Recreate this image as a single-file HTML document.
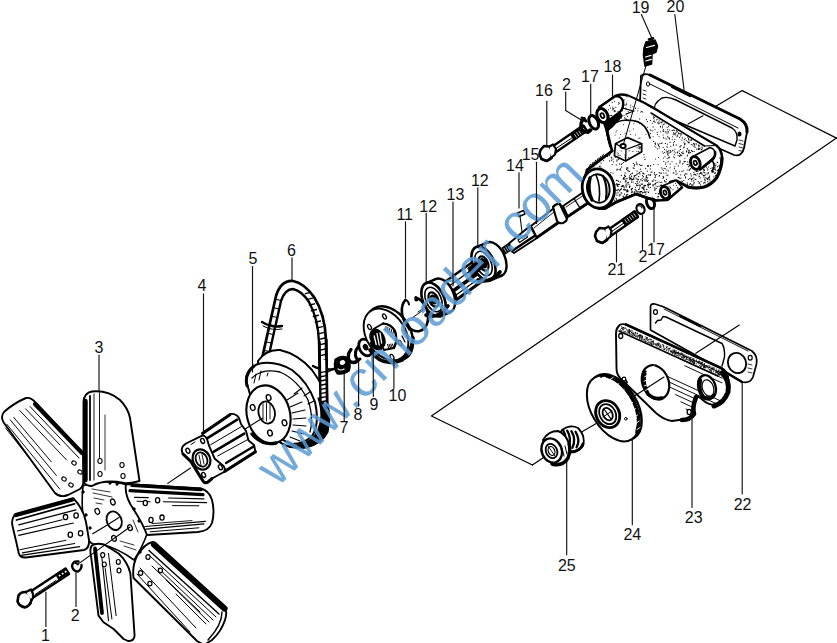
<!DOCTYPE html>
<html><head><meta charset="utf-8"><title>diagram</title>
<style>
html,body{margin:0;padding:0;background:#fff;}
body{width:837px;height:643px;overflow:hidden;}
svg{display:block;font-family:"Liberation Sans",sans-serif;}
</style></head><body>
<svg width="837" height="643" viewBox="0 0 837 643" stroke-linecap="round" stroke-linejoin="round">
<rect width="837" height="643" fill="#fff"/>
<path d="M714.6,107 L742.2,90.6 L836.5,138.1" fill="none" stroke="#000" stroke-width="1.2" />
<path d="M703,115.7 L688,124" fill="none" stroke="#000" stroke-width="1.1" />
<path d="M836.5,138.1 L431.4,416 L532.4,465" fill="none" stroke="#000" stroke-width="1.2" />
<path d="M83,486 Q100,478 128,485 Q140,500 147,534 Q142,548 134,560 Q118,548 100,544 Q90,546 88,538 Q80,515 83,486 Z" fill="#fff" stroke="#000" stroke-width="1.6" />
<path d="M26,398 Q14,403 4,412 Q0,417 4,423 L55,493 Q60,498 68,495 L80,489 Q84,486 83.5,478 L83,453 L36,403 Q31,397 26,398 Z" fill="#fff" stroke="#000" stroke-width="1.9" />
<path d="M35,404 L82,453" fill="none" stroke="#000" stroke-width="4.2" />
<path d="M30,406.5 L79,458" fill="none" stroke="#000" stroke-width="1.0" />
<line x1="19.7" y1="410.5" x2="66.7" y2="460.1" stroke="#000" stroke-width="0.95"/>
<line x1="25.6" y1="408.8" x2="60" y2="445" stroke="#000" stroke-width="0.95"/>
<line x1="13.7" y1="417.4" x2="51.3" y2="461.8" stroke="#000" stroke-width="0.95"/>
<line x1="10.3" y1="419.9" x2="56.4" y2="475.5" stroke="#000" stroke-width="0.95"/>
<line x1="6.8" y1="424.2" x2="59.8" y2="489.1" stroke="#000" stroke-width="0.95"/>
<line x1="5.5" y1="428" x2="30" y2="459" stroke="#000" stroke-width="0.95"/>
<ellipse cx="74" cy="463" rx="2.3" ry="1.9" transform="rotate(30 74 463)" fill="#fff" stroke="#000" stroke-width="1.1"/>
<ellipse cx="80" cy="472" rx="2.3" ry="1.9" transform="rotate(30 80 472)" fill="#fff" stroke="#000" stroke-width="1.1"/>
<ellipse cx="64" cy="479" rx="2.3" ry="1.9" transform="rotate(30 64 479)" fill="#fff" stroke="#000" stroke-width="1.1"/>
<ellipse cx="71" cy="485" rx="2.3" ry="1.9" transform="rotate(30 71 485)" fill="#fff" stroke="#000" stroke-width="1.1"/>
<path d="M14.5,515 Q11,520 12.5,526 L16.5,543 L18.7,553 Q20,558 26,557.5 L84,550 Q89.5,548.5 89,540 L86,522 Q83,508 73.5,498.5 Z" fill="#fff" stroke="#000" stroke-width="1.9" />
<path d="M16,515 L72.5,499.5" fill="none" stroke="#000" stroke-width="4.4" />
<path d="M16.5,520 L74.5,503.8" fill="none" stroke="#000" stroke-width="1.8" />
<line x1="18.7" y1="524.8" x2="75.9" y2="509.9" stroke="#000" stroke-width="1.2"/>
<line x1="17.4" y1="531" x2="62.2" y2="519.8" stroke="#000" stroke-width="1.1"/>
<line x1="18.7" y1="535.4" x2="73.4" y2="523" stroke="#000" stroke-width="1.1"/>
<line x1="19.9" y1="549.7" x2="65.9" y2="540.3" stroke="#000" stroke-width="1.0"/>
<line x1="22.4" y1="552.8" x2="74.6" y2="543.5" stroke="#000" stroke-width="1.2"/>
<line x1="21.1" y1="555.3" x2="79.6" y2="546.6" stroke="#000" stroke-width="1.2"/>
<ellipse cx="65.5" cy="517.1" rx="2.2" ry="2.6" transform="rotate(0 65.5 517.1)" fill="#fff" stroke="#000" stroke-width="1.3"/>
<ellipse cx="76.1" cy="515.5" rx="2.2" ry="2.6" transform="rotate(0 76.1 515.5)" fill="#fff" stroke="#000" stroke-width="1.3"/>
<ellipse cx="70.3" cy="534.8" rx="2.2" ry="2.6" transform="rotate(0 70.3 534.8)" fill="#fff" stroke="#000" stroke-width="1.3"/>
<ellipse cx="80.6" cy="533.3" rx="2.2" ry="2.6" transform="rotate(0 80.6 533.3)" fill="#fff" stroke="#000" stroke-width="1.3"/>
<path d="M83.5,482 L83.5,402 Q84,393 92,391.5 Q108,390 120,400 Q128,408 130,418 L139.5,481 Q128,484 124,483 Q104,479 92,486 Q86,486 83.5,482 Z" fill="#fff" stroke="#000" stroke-width="1.9" />
<path d="M85.5,401 L85.5,480" fill="none" stroke="#000" stroke-width="4.4" />
<path d="M90,396 L90,480" fill="none" stroke="#000" stroke-width="1.8" />
<line x1="94" y1="394" x2="94" y2="480" stroke="#000" stroke-width="0.9"/>
<line x1="99.5" y1="393" x2="99.5" y2="462" stroke="#000" stroke-width="0.9"/>
<line x1="105" y1="415" x2="105" y2="470" stroke="#000" stroke-width="0.8"/>
<ellipse cx="100" cy="461" rx="2.1" ry="2.5" transform="rotate(0 100 461)" fill="#fff" stroke="#000" stroke-width="1.1"/>
<ellipse cx="100" cy="474" rx="2.1" ry="2.5" transform="rotate(0 100 474)" fill="#fff" stroke="#000" stroke-width="1.1"/>
<ellipse cx="122" cy="465" rx="2.1" ry="2.5" transform="rotate(0 122 465)" fill="#fff" stroke="#000" stroke-width="1.1"/>
<ellipse cx="123" cy="476" rx="2.1" ry="2.5" transform="rotate(0 123 476)" fill="#fff" stroke="#000" stroke-width="1.1"/>
<path d="M126,484 L200,488.5 Q209,490 212,500 Q215,512 212,523 Q209,531 198,532 L147,535 Q143,524 134,510 Q124,496 126,484 Z" fill="#fff" stroke="#000" stroke-width="1.9" />
<path d="M132,485.2 L201,489.4" fill="none" stroke="#000" stroke-width="3.6" />
<path d="M130,490.6 L203,494.6" fill="none" stroke="#000" stroke-width="3.2" />
<line x1="134.5" y1="497.4" x2="148.3" y2="497.6" stroke="#000" stroke-width="1.2"/>
<line x1="168.6" y1="498" x2="204" y2="498.8" stroke="#000" stroke-width="1.2"/>
<line x1="163.4" y1="501.8" x2="206.7" y2="502.6" stroke="#000" stroke-width="1.1"/>
<line x1="137" y1="501.2" x2="150.2" y2="501.8" stroke="#000" stroke-width="1.0"/>
<line x1="172.6" y1="505.6" x2="198.9" y2="505.8" stroke="#000" stroke-width="1.0"/>
<line x1="145" y1="526.5" x2="205.4" y2="521.3" stroke="#000" stroke-width="1.2"/>
<line x1="146.3" y1="529.1" x2="204" y2="523.9" stroke="#000" stroke-width="1.1"/>
<line x1="150.2" y1="531.8" x2="198.9" y2="527.8" stroke="#000" stroke-width="1.0"/>
<line x1="152" y1="523.6" x2="192" y2="520.6" stroke="#000" stroke-width="0.9"/>
<ellipse cx="145.3" cy="503" rx="2.1" ry="2.6" transform="rotate(0 145.3 503)" fill="#fff" stroke="#000" stroke-width="1.3"/>
<ellipse cx="157.6" cy="500.2" rx="2.1" ry="2.6" transform="rotate(0 157.6 500.2)" fill="#fff" stroke="#000" stroke-width="1.3"/>
<ellipse cx="151" cy="520" rx="2.1" ry="2.6" transform="rotate(0 151 520)" fill="#fff" stroke="#000" stroke-width="1.3"/>
<ellipse cx="162" cy="517.6" rx="2.1" ry="2.6" transform="rotate(0 162 517.6)" fill="#fff" stroke="#000" stroke-width="1.3"/>
<path d="M152.5,542 L224,606 Q228,611 225,620 Q221,632 212,640 L204,645 L197,641 L133.5,578 Q132,566 137,556 Q144,544 152.5,542 Z" fill="#fff" stroke="#000" stroke-width="1.9" />
<path d="M154,544.5 L224.5,608.5" fill="none" stroke="#000" stroke-width="6.2" />
<path d="M149,550.5 L219,614" fill="none" stroke="#000" stroke-width="1.4" />
<line x1="150" y1="556" x2="216" y2="617" stroke="#000" stroke-width="1.0"/>
<line x1="158" y1="568" x2="213" y2="620" stroke="#000" stroke-width="1.0"/>
<line x1="166" y1="580" x2="209" y2="622" stroke="#000" stroke-width="1.0"/>
<line x1="176" y1="594" x2="206" y2="624" stroke="#000" stroke-width="1.0"/>
<line x1="152" y1="566" x2="200" y2="612" stroke="#000" stroke-width="1.0"/>
<line x1="140" y1="568" x2="196" y2="628" stroke="#000" stroke-width="1.0"/>
<line x1="137" y1="574" x2="190" y2="632" stroke="#000" stroke-width="1.0"/>
<ellipse cx="148" cy="557" rx="2.1" ry="2.3" transform="rotate(0 148 557)" fill="#fff" stroke="#000" stroke-width="1.2"/>
<ellipse cx="160.4" cy="570.4" rx="2.1" ry="2.3" transform="rotate(0 160.4 570.4)" fill="#fff" stroke="#000" stroke-width="1.2"/>
<ellipse cx="140.6" cy="573" rx="2.1" ry="2.3" transform="rotate(0 140.6 573)" fill="#fff" stroke="#000" stroke-width="1.2"/>
<ellipse cx="149.9" cy="583.6" rx="2.1" ry="2.3" transform="rotate(0 149.9 583.6)" fill="#fff" stroke="#000" stroke-width="1.2"/>
<path d="M222,612 Q222,625 208,640" fill="none" stroke="#000" stroke-width="1.4" />
<path d="M91.5,546 Q95,542.5 104,544.5 L118.6,553.5 Q127.8,562 130.4,573.6 L134.6,635.7 Q134,641.5 128,641 L123.6,639 L113.6,629 L103.5,622.3 L98.5,615.6 L91,556 Q89.5,550 91.5,546 Z" fill="#fff" stroke="#000" stroke-width="1.9" />
<path d="M95,548.5 L102,613" fill="none" stroke="#000" stroke-width="3.8" />
<line x1="101.8" y1="556.8" x2="108.5" y2="620.6" stroke="#000" stroke-width="1.1"/>
<line x1="105.2" y1="568.6" x2="111.9" y2="618.9" stroke="#000" stroke-width="1.0"/>
<line x1="108.5" y1="553.5" x2="116.1" y2="615.6" stroke="#000" stroke-width="1.0"/>
<ellipse cx="102.7" cy="555.1" rx="2.0" ry="2.4" transform="rotate(0 102.7 555.1)" fill="#fff" stroke="#000" stroke-width="1.2"/>
<ellipse cx="104.3" cy="564.4" rx="2.0" ry="2.4" transform="rotate(0 104.3 564.4)" fill="#fff" stroke="#000" stroke-width="1.2"/>
<ellipse cx="118.3" cy="561.9" rx="2.0" ry="2.4" transform="rotate(0 118.3 561.9)" fill="#fff" stroke="#000" stroke-width="1.2"/>
<ellipse cx="119" cy="570.6" rx="2.0" ry="2.4" transform="rotate(0 119 570.6)" fill="#fff" stroke="#000" stroke-width="1.2"/>
<ellipse cx="114.2" cy="520.7" rx="7.3" ry="9.6" transform="rotate(-22 114.2 520.7)" fill="#fff" stroke="#000" stroke-width="1.9"/>
<line x1="92.7" y1="533.8" x2="109" y2="524" stroke="#000" stroke-width="1.1"/>
<line x1="109.5" y1="523.5" x2="119" y2="517.5" stroke="#000" stroke-width="1.1"/>
<ellipse cx="112.8" cy="502" rx="2.2" ry="3.0" transform="rotate(-20 112.8 502)" fill="#fff" stroke="#000" stroke-width="1.3"/>
<ellipse cx="97.3" cy="511.4" rx="2.2" ry="3.0" transform="rotate(-20 97.3 511.4)" fill="#fff" stroke="#000" stroke-width="1.3"/>
<ellipse cx="130" cy="527.6" rx="2.2" ry="3.0" transform="rotate(-20 130 527.6)" fill="#fff" stroke="#000" stroke-width="1.3"/>
<ellipse cx="114" cy="538.4" rx="2.2" ry="3.0" transform="rotate(-20 114 538.4)" fill="#fff" stroke="#000" stroke-width="1.3"/>
<line x1="92" y1="489" x2="110" y2="492" stroke="#000" stroke-width="0.8"/>
<line x1="93" y1="493" x2="112" y2="497" stroke="#000" stroke-width="0.8"/>
<line x1="94" y1="498" x2="104" y2="500" stroke="#000" stroke-width="0.8"/>
<line x1="96" y1="503" x2="102" y2="504" stroke="#000" stroke-width="0.8"/>
<line x1="120" y1="541" x2="134" y2="545" stroke="#000" stroke-width="0.8"/>
<line x1="124" y1="546" x2="136" y2="550" stroke="#000" stroke-width="0.8"/>
<line x1="133" y1="520" x2="138" y2="532" stroke="#000" stroke-width="0.8"/>
<ellipse cx="83" cy="492" rx="1.1" ry="1.4" transform="rotate(0 83 492)" fill="#000" stroke="#000" stroke-width="0.8"/>
<ellipse cx="86" cy="515" rx="1.1" ry="1.4" transform="rotate(0 86 515)" fill="#000" stroke="#000" stroke-width="0.8"/>
<ellipse cx="90" cy="528" rx="1.1" ry="1.4" transform="rotate(0 90 528)" fill="#000" stroke="#000" stroke-width="0.8"/>
<ellipse cx="134" cy="509" rx="1.1" ry="1.4" transform="rotate(0 134 509)" fill="#000" stroke="#000" stroke-width="0.8"/>
<ellipse cx="139" cy="521" rx="1.1" ry="1.4" transform="rotate(0 139 521)" fill="#000" stroke="#000" stroke-width="0.8"/>
<ellipse cx="140" cy="552" rx="1.1" ry="1.4" transform="rotate(0 140 552)" fill="#000" stroke="#000" stroke-width="0.8"/>
<ellipse cx="110" cy="483" rx="1.1" ry="1.4" transform="rotate(0 110 483)" fill="#000" stroke="#000" stroke-width="0.8"/>
<ellipse cx="117" cy="484" rx="1.1" ry="1.4" transform="rotate(0 117 484)" fill="#000" stroke="#000" stroke-width="0.8"/>
<line x1="167.7" y1="483.4" x2="190.5" y2="468" stroke="#000" stroke-width="1.1"/>
<line x1="78.7" y1="563.6" x2="130" y2="527" stroke="#000" stroke-width="1.1"/>
<path d="M29,592.5 L65.5,568.5 L69,574 L32.5,598 Z" fill="#fff" stroke="#000" stroke-width="2.5" />
<line x1="35" y1="594.5" x2="56" y2="580.5" stroke="#000" stroke-width="1.0"/>
<path d="M56,574.5 L65.5,568.5 L69,574 L59.5,580 Z" fill="#000" stroke="#000" stroke-width="1.4" />
<ellipse cx="59.5" cy="575.6" rx="0.7" ry="0.7" transform="rotate(0 59.5 575.6)" fill="#fff" stroke="#fff" stroke-width="0.6"/>
<ellipse cx="62.5" cy="573.65" rx="0.7" ry="0.7" transform="rotate(0 62.5 573.65)" fill="#fff" stroke="#fff" stroke-width="0.6"/>
<ellipse cx="65.5" cy="571.7" rx="0.7" ry="0.7" transform="rotate(0 65.5 571.7)" fill="#fff" stroke="#fff" stroke-width="0.6"/>
<path d="M18.5,595.5 Q21,591.5 26,592 Q31,594 31.5,600 Q30,606 25,607.5 Q19.5,606.5 17.5,601.5 Z" fill="#fff" stroke="#000" stroke-width="2.6" />
<path d="M26,592 L31,589.5 Q33.5,593 33,598 L31.5,600" fill="#fff" stroke="#000" stroke-width="2.2" />
<path d="M21,605.5 Q26,609 31,603.5" fill="none" stroke="#000" stroke-width="1.8" />
<path d="M78.5,561.5 Q73,560.5 72,566 Q73,571.5 78,571.5 Q82,569 81.5,565" fill="none" stroke="#000" stroke-width="2.4" />
<path d="M74,562 L78,564.5" fill="none" stroke="#000" stroke-width="1.8" />
<path d="M202,433 L230,414 Q236,413 239,418 L241,424 L246,431 L248.5,440.5 L254,445 L255.5,452 L224.5,471.5 L208,450 Z" fill="#fff" stroke="#000" stroke-width="1.9" />
<line x1="203" y1="433.5" x2="230" y2="415" stroke="#000" stroke-width="2.6"/>
<line x1="207.8" y1="437.8" x2="237.2" y2="419.6" stroke="#000" stroke-width="2.6"/>
<line x1="210.6" y1="444.8" x2="241.4" y2="426.6" stroke="#000" stroke-width="1.0"/>
<line x1="213.4" y1="451.8" x2="244.2" y2="433.6" stroke="#000" stroke-width="2.6"/>
<line x1="217.6" y1="456" x2="248.4" y2="439.2" stroke="#000" stroke-width="1.0"/>
<line x1="226" y1="463" x2="254" y2="446.2" stroke="#000" stroke-width="2.4"/>
<line x1="224.6" y1="471.4" x2="255.4" y2="451.8" stroke="#000" stroke-width="3.0"/>
<path d="M202.2,435.7 Q205,435 207,439 L209.2,446.2 L214.8,458.8 L223.5,466 Q226,469 224,472 L212,478.5 L208,482 Q205,484 203,481 L200,476.3 L191,461.6 L183,454 Q180.5,450 183,446 L186,443.5 Z" fill="#fff" stroke="#000" stroke-width="1.9" />
<path d="M183,454 L191,461.6 L200,476.3 L203,481 Q205,484 208,482 L212,478.5" fill="none" stroke="#000" stroke-width="3.0" />
<ellipse cx="201.5" cy="459.5" rx="8.6" ry="10.4" transform="rotate(-25 201.5 459.5)" fill="#fff" stroke="#000" stroke-width="2.2"/>
<ellipse cx="201.5" cy="459.5" rx="5.6" ry="7.4" transform="rotate(-25 201.5 459.5)" fill="#fff" stroke="#000" stroke-width="1.8"/>
<line x1="199" y1="455" x2="201" y2="465" stroke="#000" stroke-width="0.9"/>
<line x1="202" y1="454.5" x2="204" y2="464" stroke="#000" stroke-width="0.9"/>
<ellipse cx="202.6" cy="440.9" rx="1.8" ry="2.6" transform="rotate(-25 202.6 440.9)" fill="#fff" stroke="#000" stroke-width="1.4"/>
<ellipse cx="187.9" cy="450.7" rx="1.8" ry="2.6" transform="rotate(-25 187.9 450.7)" fill="#fff" stroke="#000" stroke-width="1.4"/>
<ellipse cx="220.4" cy="467.2" rx="1.8" ry="2.6" transform="rotate(-25 220.4 467.2)" fill="#fff" stroke="#000" stroke-width="1.4"/>
<ellipse cx="203.6" cy="474.9" rx="1.8" ry="2.6" transform="rotate(-25 203.6 474.9)" fill="#fff" stroke="#000" stroke-width="1.4"/>
<line x1="191" y1="444.5" x2="195" y2="442" stroke="#000" stroke-width="1.0"/>
<path d="M259,372 L276,296 Q281,280 293,281 Q304,283 314,297 Q325,314 326,340 L327,412 Q330,428 322,438 Q312,446 300,447" fill="none" stroke="#000" stroke-width="2.7" />
<path d="M266,368 L281,301 Q285,289 293,289 Q302,291 309,302 Q318,318 319,342 L320,408" fill="none" stroke="#000" stroke-width="2.4" />
<line x1="305.4" y1="293.6" x2="310.6" y2="292.4" stroke="#000" stroke-width="1.4"/>
<line x1="307.37278911564624" y1="299.31428571428575" x2="312.5727891156463" y2="298.1142857142857" stroke="#000" stroke-width="1.4"/>
<line x1="309.3455782312925" y1="305.02857142857147" x2="314.54557823129255" y2="303.8285714285714" stroke="#000" stroke-width="1.4"/>
<line x1="311.31836734693877" y1="310.7428571428572" x2="316.5183673469388" y2="309.54285714285714" stroke="#000" stroke-width="1.4"/>
<line x1="313.29115646258504" y1="316.45714285714286" x2="318.4911564625851" y2="315.2571428571428" stroke="#000" stroke-width="1.4"/>
<line x1="315.26394557823124" y1="322.1714285714286" x2="320.4639455782313" y2="320.97142857142853" stroke="#000" stroke-width="1.4"/>
<line x1="317.2367346938775" y1="327.8857142857143" x2="322.43673469387755" y2="326.68571428571425" stroke="#000" stroke-width="1.4"/>
<line x1="319.2095238095238" y1="333.6" x2="324.4095238095238" y2="332.4" stroke="#000" stroke-width="1.4"/>
<line x1="319.947619047619" y1="339.1714285714286" x2="325.14761904761906" y2="337.97142857142853" stroke="#000" stroke-width="1.4"/>
<line x1="320.0208791208791" y1="344.6659340659341" x2="325.22087912087915" y2="343.46593406593405" stroke="#000" stroke-width="1.4"/>
<line x1="320.0941391941392" y1="350.16043956043956" x2="325.29413919413923" y2="348.9604395604395" stroke="#000" stroke-width="1.4"/>
<line x1="320.1673992673992" y1="355.6549450549451" x2="325.36739926739926" y2="354.45494505494503" stroke="#000" stroke-width="1.4"/>
<line x1="320.2406593406593" y1="361.1494505494506" x2="325.44065934065935" y2="359.94945054945055" stroke="#000" stroke-width="1.4"/>
<line x1="320.3139194139194" y1="366.64395604395605" x2="325.51391941391944" y2="365.443956043956" stroke="#000" stroke-width="1.4"/>
<line x1="320.3871794871795" y1="372.13846153846157" x2="325.5871794871795" y2="370.9384615384615" stroke="#000" stroke-width="1.4"/>
<line x1="320.4604395604395" y1="377.63296703296703" x2="325.66043956043956" y2="376.432967032967" stroke="#000" stroke-width="1.4"/>
<line x1="320.5336996336996" y1="383.12747252747255" x2="325.73369963369964" y2="381.9274725274725" stroke="#000" stroke-width="1.4"/>
<line x1="320.6069597069597" y1="388.62197802197807" x2="325.80695970695973" y2="387.421978021978" stroke="#000" stroke-width="1.4"/>
<line x1="320.6802197802198" y1="394.1164835164835" x2="325.8802197802198" y2="392.9164835164835" stroke="#000" stroke-width="1.4"/>
<line x1="320.7534798534798" y1="399.61098901098904" x2="325.95347985347985" y2="398.410989010989" stroke="#000" stroke-width="1.4"/>
<line x1="320.8267399267399" y1="405.1054945054945" x2="326.02673992673994" y2="403.90549450549446" stroke="#000" stroke-width="1.4"/>
<line x1="320.9" y1="410.6" x2="326.1" y2="409.4" stroke="#000" stroke-width="1.4"/>
<line x1="276.5" y1="299.5" x2="281.5" y2="300.5" stroke="#000" stroke-width="1.1"/>
<line x1="274.5" y1="308.0" x2="279.5" y2="309.0" stroke="#000" stroke-width="1.1"/>
<line x1="272.5" y1="316.5" x2="277.5" y2="317.5" stroke="#000" stroke-width="1.1"/>
<line x1="270.5" y1="325.0" x2="275.5" y2="326.0" stroke="#000" stroke-width="1.1"/>
<line x1="268.5" y1="333.5" x2="273.5" y2="334.5" stroke="#000" stroke-width="1.1"/>
<line x1="266.5" y1="342.0" x2="271.5" y2="343.0" stroke="#000" stroke-width="1.1"/>
<line x1="264.5" y1="350.5" x2="269.5" y2="351.5" stroke="#000" stroke-width="1.1"/>
<line x1="262.5" y1="359.0" x2="267.5" y2="360.0" stroke="#000" stroke-width="1.1"/>
<line x1="260.5" y1="367.5" x2="265.5" y2="368.5" stroke="#000" stroke-width="1.1"/>
<path d="M262,322 Q272,328 282,326" fill="none" stroke="#000" stroke-width="2.4" />
<path d="M263,326 Q272,331 282,329" fill="none" stroke="#000" stroke-width="1.0" />
<path d="M313,366 Q322,371 334,369" fill="none" stroke="#000" stroke-width="2.4" />
<line x1="334" y1="369" x2="340" y2="366" stroke="#000" stroke-width="1.0"/>
<path d="M258,361 Q266,349 280,350 Q298,354 312,370 Q326,388 329,412 Q331,432 320,441 Q308,449 290,447 Q270,440 258,420 Z" fill="#fff" stroke="#000" stroke-width="2.0" />
<path d="M322,398 Q331,416 328,432 Q322,444 306,448 Q296,449 288,446 Q300,446 310,440 Q320,432 321,416 Q321,406 318,398 Z" fill="#000" stroke="#000" stroke-width="1.2" />
<path d="M319,360 L320,400 L327,404 L326,360 Z" fill="#fff" stroke="#fff" stroke-width="0.1" />
<line x1="319.5" y1="342" x2="320.5" y2="404" stroke="#000" stroke-width="2.4"/>
<line x1="326.3" y1="340" x2="327.2" y2="408" stroke="#000" stroke-width="2.7"/>
<line x1="320.5" y1="372.6" x2="326.5" y2="371.4" stroke="#000" stroke-width="1.4"/>
<line x1="320.5" y1="376.8" x2="326.5" y2="375.59999999999997" stroke="#000" stroke-width="1.4"/>
<line x1="320.5" y1="381.0" x2="326.5" y2="379.79999999999995" stroke="#000" stroke-width="1.4"/>
<line x1="320.5" y1="385.20000000000005" x2="326.5" y2="384.0" stroke="#000" stroke-width="1.4"/>
<line x1="320.5" y1="389.40000000000003" x2="326.5" y2="388.2" stroke="#000" stroke-width="1.4"/>
<line x1="320.5" y1="393.6" x2="326.5" y2="392.4" stroke="#000" stroke-width="1.4"/>
<line x1="320.5" y1="397.8" x2="326.5" y2="396.59999999999997" stroke="#000" stroke-width="1.4"/>
<line x1="320.5" y1="402.0" x2="326.5" y2="400.79999999999995" stroke="#000" stroke-width="1.4"/>
<line x1="320.5" y1="406.20000000000005" x2="326.5" y2="405.0" stroke="#000" stroke-width="1.4"/>
<path d="M246,380 Q247,368 258,364 Q274,360 292,370 Q308,382 315,402 Q320,424 312,436 Q304,444 292,444 Q270,436 256,416 Z" fill="#fff" stroke="#000" stroke-width="2.0" />
<path d="M247,386 Q244,374 254,366" fill="none" stroke="#000" stroke-width="3.0" />
<path d="M252,378 Q262,368 280,372 Q298,380 308,400 Q314,418 310,432" fill="none" stroke="#000" stroke-width="1.3" />
<line x1="287" y1="400" x2="298" y2="393" stroke="#000" stroke-width="1.1"/>
<line x1="290" y1="407" x2="302" y2="402" stroke="#000" stroke-width="1.1"/>
<line x1="292" y1="413" x2="305" y2="410" stroke="#000" stroke-width="1.1"/>
<line x1="293" y1="419" x2="306" y2="418" stroke="#000" stroke-width="1.1"/>
<line x1="293" y1="425" x2="306" y2="426" stroke="#000" stroke-width="1.1"/>
<line x1="292" y1="431" x2="304" y2="434" stroke="#000" stroke-width="1.1"/>
<line x1="290" y1="437" x2="300" y2="441" stroke="#000" stroke-width="1.1"/>
<line x1="294" y1="394" x2="302" y2="388" stroke="#000" stroke-width="1.1"/>
<line x1="304" y1="396" x2="310" y2="392" stroke="#000" stroke-width="1.1"/>
<line x1="308" y1="404" x2="314" y2="401" stroke="#000" stroke-width="1.1"/>
<line x1="256" y1="374" x2="254" y2="383" stroke="#000" stroke-width="1.0"/>
<line x1="261" y1="371" x2="259" y2="380" stroke="#000" stroke-width="1.0"/>
<line x1="268" y1="373" x2="267" y2="376" stroke="#000" stroke-width="1.0"/>
<ellipse cx="268.5" cy="414.5" rx="21.5" ry="29.5" transform="rotate(-15 268.5 414.5)" fill="#fff" stroke="#000" stroke-width="2.1"/>
<path d="M252,434 Q262,446 276,443" fill="none" stroke="#000" stroke-width="3.4" />
<ellipse cx="266.7" cy="412.5" rx="8.2" ry="11.2" transform="rotate(-12 266.7 412.5)" fill="#fff" stroke="#000" stroke-width="1.8"/>
<line x1="263" y1="404" x2="263" y2="420" stroke="#000" stroke-width="0.9"/>
<line x1="266.5" y1="403" x2="266.5" y2="421" stroke="#000" stroke-width="0.9"/>
<line x1="270" y1="404" x2="270" y2="419" stroke="#000" stroke-width="0.9"/>
<ellipse cx="268.6" cy="397.6" rx="2.3" ry="3.0" transform="rotate(-15 268.6 397.6)" fill="#fff" stroke="#000" stroke-width="1.4"/>
<ellipse cx="252.7" cy="407.5" rx="2.3" ry="3.0" transform="rotate(-15 252.7 407.5)" fill="#fff" stroke="#000" stroke-width="1.4"/>
<ellipse cx="284.5" cy="422.8" rx="2.3" ry="3.0" transform="rotate(-15 284.5 422.8)" fill="#fff" stroke="#000" stroke-width="1.4"/>
<ellipse cx="270" cy="433" rx="2.3" ry="3.0" transform="rotate(-15 270 433)" fill="#fff" stroke="#000" stroke-width="1.4"/>
<line x1="245.6" y1="428.7" x2="262.4" y2="418.2" stroke="#000" stroke-width="1.1"/>
<line x1="328" y1="372" x2="336" y2="368" stroke="#000" stroke-width="1.1"/>
<path d="M335.5,359.5 Q341,355 347.5,358 Q351,364 349,370.5 Q344,374.5 337.5,373.5 Q333.5,369 335.5,359.5 Z" fill="#000" stroke="#000" stroke-width="2.2" />
<ellipse cx="342.5" cy="362.5" rx="2.2" ry="1.8" transform="rotate(-20 342.5 362.5)" fill="#fff" stroke="#fff" stroke-width="1.0"/>
<path d="M338,369 q3,2 6,0" fill="none" stroke="#fff" stroke-width="1.2" />
<path d="M351,349.5 Q346.5,355 349.5,361 Q354,364.5 358.5,360" fill="none" stroke="#000" stroke-width="3.3" />
<path d="M358.5,346.5 Q353.5,352 356.5,358.5 Q358,360 360,359" fill="none" stroke="#000" stroke-width="3.0" />
<ellipse cx="365.6" cy="347.4" rx="6.2" ry="8.8" transform="rotate(-28 365.6 347.4)" fill="#fff" stroke="#000" stroke-width="2.8"/>
<ellipse cx="365.6" cy="347.2" rx="1.8" ry="2.6" transform="rotate(-28 365.6 347.2)" fill="#000" stroke="#000" stroke-width="1.6"/>
<ellipse cx="389.5" cy="333.5" rx="20.5" ry="29.5" transform="rotate(-33 389.5 333.5)" fill="#fff" stroke="#000" stroke-width="2.6"/>
<ellipse cx="386" cy="334.5" rx="19.5" ry="28" transform="rotate(-33 386 334.5)" fill="#fff" stroke="#000" stroke-width="1.9"/>
<path d="M370,350 Q382,368 402,360 Q412,352 413,338" fill="none" stroke="#000" stroke-width="3.6" />
<path d="M373.5,329 L383,323.5 Q391,324 395,331 Q398,340 394,348 L384,350 Z" fill="#fff" stroke="#000" stroke-width="1.8" />
<path d="M383,323.5 Q391,324 395,331 Q398,340 394,348" fill="none" stroke="#000" stroke-width="2.2" />
<line x1="386.0" y1="326.5" x2="385.2" y2="330.0" stroke="#000" stroke-width="1.0"/>
<line x1="387.9" y1="327.5" x2="387.09999999999997" y2="331.0" stroke="#000" stroke-width="1.0"/>
<line x1="389.8" y1="328.5" x2="389.0" y2="332.0" stroke="#000" stroke-width="1.0"/>
<line x1="391.7" y1="329.5" x2="390.9" y2="333.0" stroke="#000" stroke-width="1.0"/>
<line x1="393.6" y1="330.5" x2="392.8" y2="334.0" stroke="#000" stroke-width="1.0"/>
<line x1="387.5" y1="344.5" x2="389.0" y2="348.5" stroke="#000" stroke-width="1.0"/>
<line x1="389.1" y1="344.3" x2="390.6" y2="348.1" stroke="#000" stroke-width="1.0"/>
<line x1="390.7" y1="344.1" x2="392.2" y2="347.7" stroke="#000" stroke-width="1.0"/>
<line x1="392.3" y1="343.9" x2="393.8" y2="347.3" stroke="#000" stroke-width="1.0"/>
<ellipse cx="377.5" cy="338.7" rx="6.4" ry="9.6" transform="rotate(-28 377.5 338.7)" fill="#000" stroke="#000" stroke-width="2.2"/>
<line x1="374.2" y1="336" x2="376.2" y2="344.5" stroke="#fff" stroke-width="1.3"/>
<line x1="377" y1="333.5" x2="379.2" y2="345" stroke="#fff" stroke-width="1.3"/>
<line x1="380" y1="333" x2="381.6" y2="343" stroke="#fff" stroke-width="1.3"/>
<path d="M371,343 Q374,350 381,349" fill="none" stroke="#000" stroke-width="2.6" />
<ellipse cx="384.5" cy="316.5" rx="1.6" ry="2.7" transform="rotate(-30 384.5 316.5)" fill="#fff" stroke="#000" stroke-width="1.3"/>
<ellipse cx="400" cy="343" rx="1.6" ry="2.7" transform="rotate(-30 400 343)" fill="#fff" stroke="#000" stroke-width="1.3"/>
<ellipse cx="369.5" cy="327" rx="1.6" ry="2.7" transform="rotate(-30 369.5 327)" fill="#fff" stroke="#000" stroke-width="1.3"/>
<ellipse cx="392" cy="357" rx="1.6" ry="2.7" transform="rotate(-30 392 357)" fill="#fff" stroke="#000" stroke-width="1.3"/>
<path d="M404,330 l3,6 M406,325 l3,5 M402,336 l3,6" fill="none" stroke="#000" stroke-width="1.3" />
<path d="M442,284 L474,261 L485,279 L452,303 Z" fill="#fff" stroke="#000" stroke-width="1.0" />
<line x1="442" y1="284" x2="474" y2="261" stroke="#000" stroke-width="2.4"/>
<line x1="445" y1="289" x2="477" y2="266" stroke="#000" stroke-width="1.4"/>
<line x1="448" y1="294.5" x2="480.5" y2="271.5" stroke="#000" stroke-width="3.6"/>
<line x1="450.5" y1="299" x2="483" y2="275.5" stroke="#000" stroke-width="1.2"/>
<line x1="452" y1="303" x2="485" y2="279" stroke="#000" stroke-width="3.0"/>
<ellipse cx="449" cy="296" rx="6.5" ry="9.5" transform="rotate(-30 449 296)" fill="#fff" stroke="#000" stroke-width="2.4"/>
<ellipse cx="494.5" cy="259.0" rx="10.5" ry="18" transform="rotate(-24 494.5 259.0)" fill="#fff" stroke="#000" stroke-width="2.4"/>
<path d="M476.2,247.1 L487.2,242.6 L501.8,275.4 L490.8,279.9 Z" fill="#fff" stroke="#fff" stroke-width="0.1" />
<line x1="476.1787404246356" y1="247.0561817624332" x2="487.1787404246356" y2="242.5561817624332" stroke="#000" stroke-width="2.4"/>
<line x1="490.8212595753644" y1="279.9438182375668" x2="501.8212595753644" y2="275.4438182375668" stroke="#000" stroke-width="2.8"/>
<ellipse cx="483.5" cy="263.5" rx="10.5" ry="18" transform="rotate(-24 483.5 263.5)" fill="#fff" stroke="#000" stroke-width="2.6"/>
<ellipse cx="483.5" cy="263.5" rx="7.56" ry="12.959999999999999" transform="rotate(-24 483.5 263.5)" fill="#fff" stroke="#000" stroke-width="1.6"/>
<ellipse cx="483.5" cy="263.5" rx="4.41" ry="7.56" transform="rotate(-24 483.5 263.5)" fill="#fff" stroke="#000" stroke-width="2.2"/>
<path d="M478,280 Q490,284 500,272" fill="none" stroke="#000" stroke-width="3.6" />
<ellipse cx="443.0" cy="295.5" rx="10.6" ry="18" transform="rotate(-24 443.0 295.5)" fill="#fff" stroke="#000" stroke-width="2.4"/>
<path d="M426.2,283.1 L435.7,279.1 L450.3,311.9 L440.8,315.9 Z" fill="#fff" stroke="#fff" stroke-width="0.1" />
<line x1="426.1787404246356" y1="283.0561817624332" x2="435.6787404246356" y2="279.0561817624332" stroke="#000" stroke-width="2.4"/>
<line x1="440.8212595753644" y1="315.9438182375668" x2="450.3212595753644" y2="311.9438182375668" stroke="#000" stroke-width="2.8"/>
<ellipse cx="433.5" cy="299.5" rx="10.6" ry="18" transform="rotate(-24 433.5 299.5)" fill="#fff" stroke="#000" stroke-width="2.6"/>
<ellipse cx="433.5" cy="299.5" rx="7.632" ry="12.959999999999999" transform="rotate(-24 433.5 299.5)" fill="#fff" stroke="#000" stroke-width="1.6"/>
<ellipse cx="433.5" cy="299.5" rx="4.452" ry="7.56" transform="rotate(-24 433.5 299.5)" fill="#fff" stroke="#000" stroke-width="2.2"/>
<path d="M426,315 Q437,320 448,306" fill="none" stroke="#000" stroke-width="3.6" />
<ellipse cx="433.5" cy="299.5" rx="2.6" ry="4" transform="rotate(-24 433.5 299.5)" fill="#000" stroke="#000" stroke-width="2.4"/>
<ellipse cx="483.5" cy="263.5" rx="2.6" ry="4" transform="rotate(-24 483.5 263.5)" fill="#000" stroke="#000" stroke-width="2.4"/>
<path d="M468,268 L482,258 L486,266 L472,276 Z" fill="#000" stroke="#000" stroke-width="1" />
<line x1="418" y1="312" x2="428" y2="305" stroke="#000" stroke-width="1.0"/>
<path d="M502.5,248 L509,243.5 L512,249 L505.5,253.5 Z" fill="#000" stroke="#000" stroke-width="1.6" />
<line x1="504.0" y1="248.3" x2="506.3" y2="252.2" stroke="#fff" stroke-width="0.7"/>
<line x1="505.9" y1="246.95000000000002" x2="508.2" y2="250.85" stroke="#fff" stroke-width="0.7"/>
<line x1="507.8" y1="245.60000000000002" x2="510.1" y2="249.5" stroke="#fff" stroke-width="0.7"/>
<line x1="509.7" y1="244.25" x2="512.0" y2="248.14999999999998" stroke="#fff" stroke-width="0.7"/>
<path d="M509.5,243 L530,226 L537,238 L514,253 Q509,250 509.5,243 Z" fill="#fff" stroke="#000" stroke-width="1.9" />
<line x1="512" y1="251" x2="536" y2="235" stroke="#000" stroke-width="2.6"/>
<path d="M518,240 l8,-5.5 l1.5,2.5 l-8,5.5 Z" fill="#fff" stroke="#000" stroke-width="1.2" />
<path d="M531,226 L553.5,208.5 L561,221.5 L537,238 Z" fill="#fff" stroke="#000" stroke-width="1.9" />
<line x1="538" y1="236.5" x2="560" y2="221" stroke="#000" stroke-width="2.6"/>
<line x1="534" y1="228" x2="554" y2="212" stroke="#000" stroke-width="0.9"/>
<path d="M553,207 Q556,203 560,204 L567,216 Q568,221 563,223 Q559,224 557,221 Z" fill="#fff" stroke="#000" stroke-width="2.2" />
<line x1="559.5" y1="204.5" x2="566.5" y2="219" stroke="#000" stroke-width="1.2"/>
<path d="M563,206 L585,191 L592,201 L568,217 Z" fill="#fff" stroke="#000" stroke-width="1.9" />
<line x1="569" y1="215.5" x2="591" y2="200.5" stroke="#000" stroke-width="2.4"/>
<line x1="574" y1="198.5" x2="580" y2="208" stroke="#000" stroke-width="1.4"/>
<line x1="566" y1="207" x2="584" y2="195" stroke="#000" stroke-width="0.9"/>
<path d="M517.5,213 l6,-2.5 l1.5,3.5 l-6,2.5 Z" fill="#fff" stroke="#000" stroke-width="1.4" />
<path d="M551,147.5 L583,125.5 L586.5,131 L554,153.5 Z" fill="#fff" stroke="#000" stroke-width="2.4" />
<line x1="556" y1="148.5" x2="574" y2="136.5" stroke="#000" stroke-width="1.0"/>
<path d="M571,134.5 L584,125.5 L587,130.5 L574,139.5 Z" fill="#000" stroke="#000" stroke-width="1.6" />
<line x1="574.5" y1="134.2" x2="576.5" y2="137.2" stroke="#fff" stroke-width="0.8"/>
<line x1="576.7" y1="132.7" x2="578.7" y2="135.7" stroke="#fff" stroke-width="0.8"/>
<line x1="578.9" y1="131.2" x2="580.9" y2="134.2" stroke="#fff" stroke-width="0.8"/>
<line x1="581.1" y1="129.7" x2="583.1" y2="132.7" stroke="#fff" stroke-width="0.8"/>
<line x1="583.3" y1="128.2" x2="585.3" y2="131.2" stroke="#fff" stroke-width="0.8"/>
<path d="M540.5,150 L544,146 L549.5,146.5 L552.5,151 L551.5,157.5 L547,161 L541.5,159 L539.5,154 Z" fill="#fff" stroke="#000" stroke-width="2.6" />
<path d="M549.5,146.5 L553,144.5 L556,149 L555,154.5 L551.5,157.5" fill="#fff" stroke="#000" stroke-width="2.2" />
<path d="M541.5,159 Q547,163 552,158" fill="none" stroke="#000" stroke-width="1.8" />
<path d="M584,118.5 Q579,123 582,130 Q586,134 590,130" fill="none" stroke="#000" stroke-width="3.4" />
<path d="M582,118 L586,121 M588,132.5 L591,130" fill="none" stroke="#000" stroke-width="3.0" />
<ellipse cx="593.7" cy="122.3" rx="4.3" ry="7.2" transform="rotate(-25 593.7 122.3)" fill="#fff" stroke="#000" stroke-width="3.0"/>
<path d="M607,230.5 L634.5,211.5 L638,217 L610,236.5 Z" fill="#fff" stroke="#000" stroke-width="2.4" />
<line x1="611" y1="232" x2="624" y2="223" stroke="#000" stroke-width="1.0"/>
<path d="M622,220 L634.5,211 L638,216.5 L625.5,225 Z" fill="#000" stroke="#000" stroke-width="1.6" />
<line x1="625.0" y1="219.6" x2="627.0" y2="222.6" stroke="#fff" stroke-width="0.8"/>
<line x1="627.2" y1="218.1" x2="629.2" y2="221.1" stroke="#fff" stroke-width="0.8"/>
<line x1="629.4" y1="216.6" x2="631.4" y2="219.6" stroke="#fff" stroke-width="0.8"/>
<line x1="631.6" y1="215.1" x2="633.6" y2="218.1" stroke="#fff" stroke-width="0.8"/>
<line x1="633.8" y1="213.6" x2="635.8" y2="216.6" stroke="#fff" stroke-width="0.8"/>
<path d="M596,232 L599.5,228 L605,228.5 L608,233 L607,239.5 L602.5,243 L597,241 L595,236 Z" fill="#fff" stroke="#000" stroke-width="2.6" />
<path d="M605,228.5 L608.5,226.5 L611.5,231 L610.5,236.5 L607,239.5" fill="#fff" stroke="#000" stroke-width="2.2" />
<path d="M597,241 Q602.5,245 607.5,240" fill="none" stroke="#000" stroke-width="1.8" />
<ellipse cx="640.5" cy="209" rx="3.9" ry="5" transform="rotate(-20 640.5 209)" fill="#fff" stroke="#000" stroke-width="2.2"/>
<path d="M638,206 q3,-1 4,2" fill="none" stroke="#000" stroke-width="1.2" />
<ellipse cx="650.5" cy="203" rx="3.7" ry="5.8" transform="rotate(-20 650.5 203)" fill="#fff" stroke="#000" stroke-width="3.0"/>
<path d="M641,76 Q644,73 650,75 L740,119 Q748,124 747,132 L744,148 Q742,157 734,155 L716,147 L700,140 L646,112 Q640,108 640,102 Z" fill="#fff" stroke="#000" stroke-width="1.8" />
<path d="M650,75 L740,119 Q748,124 747,132" fill="none" stroke="#000" stroke-width="3.0" />
<path d="M655,112 Q652,104 662,98 Q668,96 676,100 L732,128 Q738,132 737,140 L735,146 L716,138 Z" fill="#fff" stroke="#000" stroke-width="1.4" />
<line x1="650" y1="84" x2="738" y2="128" stroke="#000" stroke-width="1.0"/>
<line x1="672" y1="87" x2="690" y2="96" stroke="#000" stroke-width="2.2"/>
<ellipse cx="648" cy="84" rx="1.6" ry="2.2" transform="rotate(0 648 84)" fill="#fff" stroke="#000" stroke-width="1.0"/>
<ellipse cx="739.5" cy="134" rx="1.3" ry="1.8" transform="rotate(0 739.5 134)" fill="#000" stroke="#000" stroke-width="1.6"/>
<line x1="643" y1="90" x2="646" y2="91" stroke="#000" stroke-width="0.8"/>
<line x1="643" y1="94" x2="646" y2="95" stroke="#000" stroke-width="0.8"/>
<line x1="643" y1="98" x2="646" y2="99" stroke="#000" stroke-width="0.8"/>
<line x1="643" y1="102" x2="646" y2="103" stroke="#000" stroke-width="0.8"/>
<line x1="643" y1="106" x2="646" y2="107" stroke="#000" stroke-width="0.8"/>
<line x1="739" y1="140.0" x2="743" y2="141.0" stroke="#000" stroke-width="0.8"/>
<line x1="739" y1="143.5" x2="743" y2="144.5" stroke="#000" stroke-width="0.8"/>
<line x1="739" y1="147.0" x2="743" y2="148.0" stroke="#000" stroke-width="0.8"/>
<line x1="739" y1="150.5" x2="743" y2="151.5" stroke="#000" stroke-width="0.8"/>
<path d="M703,115.7 L688,124" fill="none" stroke="#000" stroke-width="1.1" />
<path d="M599,107.5 L615.5,96 Q620,93.5 626,95 L642,102 L656,109.5 L676,121.5 L696,133.5 L716.5,145.5 Q722,150 722,158 Q722,168 716.5,178 Q711,185 704,187 Q696,189 688,187 L676,180.5 L670,182 L680,187 L667,200 L656,200.5 L646,197.5 L636,194 L615.5,202.5 L605,208.5 Q597,210 592,204 L584,180 L587,170 L612,151 L607,131 Z" fill="#fff" stroke="#000" stroke-width="2.6" />
<path d="M637.8,192.8h0.01M607.7,181.9h0.01M610.4,202.4h0.01M664.9,181.7h0.01M616.9,161.1h0.01M626.5,169.4h0.01M651.0,172.1h0.01M595.3,170.7h0.01M661.9,182.0h0.01M613.3,161.8h0.01M630.7,174.3h0.01M624.5,175.2h0.01M626.3,168.0h0.01M627.9,170.6h0.01M609.8,195.0h0.01M616.9,195.2h0.01M643.6,188.5h0.01M617.1,190.7h0.01M626.9,194.3h0.01M611.5,204.0h0.01M625.0,196.9h0.01M616.0,198.4h0.01M664.5,180.5h0.01M663.0,178.2h0.01M645.6,192.2h0.01M650.4,183.9h0.01M621.7,186.3h0.01M638.9,191.6h0.01M600.8,176.3h0.01M605.5,189.7h0.01M598.7,169.5h0.01M625.2,172.9h0.01M610.3,174.6h0.01M654.5,172.6h0.01M639.4,172.3h0.01M616.1,201.1h0.01M659.3,172.7h0.01M661.1,184.8h0.01M666.5,179.3h0.01M627.3,167.8h0.01M650.6,165.5h0.01M611.5,185.4h0.01M639.6,185.2h0.01M612.1,181.3h0.01M611.7,181.1h0.01M616.9,193.0h0.01M659.0,182.0h0.01M650.3,175.5h0.01M644.7,186.8h0.01M660.9,173.2h0.01M611.7,197.7h0.01M654.9,190.2h0.01M610.9,194.9h0.01M599.4,178.3h0.01M627.8,170.2h0.01M645.0,159.4h0.01M636.8,174.8h0.01M634.0,192.8h0.01M598.7,175.7h0.01M600.1,186.7h0.01M660.8,182.5h0.01M609.1,182.3h0.01M648.0,180.4h0.01M602.3,191.2h0.01M616.3,164.9h0.01M637.1,171.2h0.01M622.7,198.8h0.01M635.4,183.5h0.01M619.6,157.3h0.01M659.2,186.1h0.01M600.2,166.0h0.01M600.9,167.8h0.01M611.3,189.1h0.01M601.1,163.1h0.01M617.1,169.2h0.01M610.7,192.3h0.01M650.3,174.6h0.01M629.5,171.3h0.01M620.6,168.8h0.01M602.4,180.0h0.01M631.2,178.8h0.01M618.1,186.4h0.01M623.9,197.5h0.01M597.3,169.1h0.01M613.0,159.1h0.01M607.6,156.6h0.01M634.2,165.5h0.01M644.0,154.6h0.01M610.9,172.6h0.01M640.3,193.8h0.01M623.4,196.9h0.01M618.6,159.2h0.01M616.6,199.3h0.01M637.0,164.7h0.01M617.0,170.2h0.01M601.7,191.0h0.01M624.9,175.9h0.01M619.4,163.9h0.01M604.1,182.9h0.01M648.1,165.3h0.01M607.9,206.0h0.01M656.0,186.0h0.01M603.9,195.8h0.01M628.9,184.3h0.01M619.1,169.4h0.01M613.0,173.1h0.01M643.4,188.9h0.01M651.9,172.0h0.01M642.4,180.7h0.01M616.5,183.9h0.01M610.0,191.4h0.01M636.9,163.5h0.01M666.0,181.9h0.01M660.8,185.7h0.01M632.3,191.3h0.01M621.3,175.4h0.01M636.3,162.1h0.01M635.6,187.5h0.01M613.5,198.8h0.01M603.5,160.6h0.01M600.2,185.9h0.01M648.6,192.5h0.01M604.5,172.6h0.01M642.4,192.9h0.01M620.3,181.9h0.01M618.0,189.6h0.01M645.7,168.3h0.01M661.5,173.0h0.01M627.9,190.3h0.01M634.1,168.3h0.01M655.8,180.6h0.01M593.9,166.9h0.01M608.1,177.2h0.01M623.4,178.0h0.01M610.3,204.5h0.01M619.4,194.8h0.01M639.6,187.0h0.01M621.7,166.9h0.01M610.9,188.7h0.01M601.5,177.2h0.01M602.8,175.6h0.01M644.2,157.0h0.01M639.5,172.6h0.01M607.3,183.3h0.01M631.6,192.2h0.01M626.5,190.8h0.01M649.7,175.0h0.01M611.8,176.8h0.01M646.9,181.1h0.01M599.0,171.3h0.01M633.3,163.4h0.01M638.1,173.4h0.01M636.9,185.7h0.01M648.4,166.2h0.01M625.2,160.5h0.01M609.1,204.1h0.01M595.1,171.4h0.01M622.0,186.2h0.01M627.3,189.8h0.01M599.6,166.7h0.01M632.4,188.4h0.01M611.5,157.9h0.01M616.6,200.9h0.01M655.5,184.0h0.01M638.9,191.8h0.01M620.7,170.1h0.01M620.8,199.8h0.01M621.3,164.4h0.01M633.2,167.9h0.01M663.7,177.6h0.01M631.4,176.1h0.01M622.2,163.5h0.01M661.5,173.0h0.01M652.9,181.1h0.01M633.9,179.5h0.01M647.5,166.1h0.01M648.7,185.3h0.01M604.2,190.2h0.01M601.1,190.4h0.01M634.4,165.9h0.01M614.9,184.5h0.01M614.7,200.2h0.01M648.6,192.1h0.01M656.2,188.4h0.01M655.0,189.2h0.01M646.5,179.8h0.01M600.7,179.2h0.01M630.8,178.3h0.01M654.3,187.8h0.01M639.6,164.6h0.01M634.5,192.9h0.01M617.8,184.8h0.01M623.6,189.7h0.01M608.8,198.2h0.01M623.1,196.2h0.01M637.1,191.4h0.01M615.2,157.5h0.01M612.0,192.1h0.01M605.4,174.1h0.01M624.5,194.2h0.01M621.3,188.3h0.01M623.5,162.5h0.01M608.0,189.5h0.01M617.0,159.9h0.01M622.0,157.8h0.01M626.2,196.2h0.01M661.5,185.4h0.01M601.7,175.5h0.01M653.8,164.6h0.01M625.6,176.4h0.01M610.3,176.7h0.01M642.0,165.4h0.01M611.3,157.3h0.01M628.2,171.1h0.01M655.7,183.3h0.01M640.5,185.8h0.01M622.1,159.2h0.01M617.2,185.2h0.01M602.2,178.1h0.01M646.2,177.2h0.01M623.0,185.7h0.01M640.7,165.4h0.01M650.3,168.9h0.01M609.9,180.9h0.01M605.9,206.4h0.01M605.7,177.1h0.01M607.8,155.6h0.01M650.6,166.0h0.01M609.6,155.6h0.01M645.6,179.0h0.01M612.4,198.7h0.01M632.6,173.1h0.01M610.6,154.0h0.01M624.6,158.6h0.01M647.6,184.6h0.01M611.6,160.2h0.01M634.8,164.5h0.01M612.2,164.6h0.01M641.2,184.1h0.01M644.4,192.3h0.01M657.7,186.6h0.01M625.3,182.0h0.01M647.3,171.1h0.01M612.2,182.8h0.01M640.4,169.2h0.01M625.6,185.1h0.01M598.7,176.5h0.01M627.9,168.2h0.01M609.6,160.9h0.01M616.1,190.2h0.01M610.5,201.2h0.01M608.6,178.4h0.01M600.0,188.7h0.01M617.4,185.9h0.01M644.6,191.0h0.01M606.4,185.8h0.01M606.1,179.1h0.01M645.8,194.1h0.01M663.2,176.4h0.01M626.9,185.8h0.01" stroke="#000" stroke-width="1.2" stroke-linecap="round" fill="none"/>
<path d="M679.8,181.8h0.01M687.2,170.0h0.01M684.5,161.7h0.01M666.9,170.0h0.01M712.7,160.9h0.01M668.1,155.5h0.01M658.4,145.1h0.01M703.8,183.2h0.01M686.7,150.9h0.01M680.8,174.8h0.01M712.7,158.4h0.01M700.1,173.4h0.01M682.6,181.6h0.01M688.8,152.6h0.01M679.9,163.0h0.01M667.1,158.3h0.01M693.5,163.1h0.01M697.1,163.0h0.01M658.5,157.5h0.01M697.2,154.2h0.01M672.0,161.7h0.01M709.7,161.2h0.01M715.6,169.9h0.01M679.8,178.2h0.01M664.6,149.3h0.01M681.2,181.0h0.01M684.4,175.6h0.01M683.8,180.5h0.01M715.4,172.9h0.01M674.3,154.6h0.01M665.8,162.8h0.01M702.7,167.5h0.01M700.6,158.5h0.01M665.4,143.4h0.01M674.4,157.8h0.01M704.7,161.6h0.01M665.5,168.7h0.01M685.2,161.4h0.01M683.1,183.4h0.01M705.4,182.7h0.01M691.3,175.9h0.01M663.5,158.0h0.01M673.0,150.2h0.01M713.5,171.6h0.01M690.7,168.9h0.01M712.2,167.3h0.01M670.1,167.7h0.01M672.6,150.7h0.01M718.5,169.6h0.01M689.3,169.5h0.01M691.9,184.9h0.01M684.8,158.2h0.01M676.0,174.5h0.01M686.9,173.9h0.01M691.2,165.7h0.01M707.1,173.9h0.01M696.8,171.4h0.01M666.0,173.1h0.01M690.6,152.5h0.01M692.3,162.0h0.01M694.0,157.6h0.01M697.8,156.6h0.01M687.3,182.9h0.01M673.7,156.7h0.01M684.9,174.2h0.01M711.8,170.7h0.01M701.1,181.4h0.01M664.2,168.3h0.01M668.0,161.7h0.01M689.2,170.4h0.01M690.3,168.6h0.01M699.1,156.1h0.01M703.5,172.1h0.01M663.8,173.0h0.01M683.2,170.8h0.01M665.5,164.2h0.01M680.2,146.0h0.01M686.6,152.0h0.01M660.0,143.5h0.01M667.9,175.1h0.01M682.5,164.0h0.01M699.5,158.6h0.01M668.8,158.0h0.01M698.2,171.0h0.01M688.6,166.7h0.01M689.1,150.3h0.01M667.5,144.1h0.01M661.7,167.8h0.01M700.8,173.1h0.01M679.6,156.2h0.01M666.3,150.0h0.01M692.6,151.4h0.01M695.9,179.6h0.01M691.8,156.5h0.01M687.8,161.9h0.01M681.0,178.1h0.01M688.7,152.3h0.01M676.1,163.8h0.01M668.2,161.6h0.01M691.8,181.0h0.01M714.7,169.2h0.01M704.8,172.3h0.01M694.2,182.5h0.01M699.7,182.9h0.01M680.0,160.2h0.01M703.4,175.5h0.01M680.1,161.6h0.01M682.6,153.6h0.01M693.8,156.3h0.01M688.4,179.3h0.01M705.8,156.8h0.01M706.2,165.7h0.01M712.5,161.6h0.01M688.1,164.2h0.01M687.4,184.4h0.01M668.6,170.8h0.01M675.8,170.2h0.01M670.8,146.2h0.01M719.7,158.0h0.01M667.1,152.7h0.01M659.2,148.1h0.01M717.3,170.2h0.01M679.7,171.2h0.01M699.2,174.1h0.01M662.0,143.0h0.01M673.8,172.9h0.01M695.2,162.6h0.01M685.5,173.9h0.01M677.0,173.2h0.01M667.2,147.5h0.01M690.0,178.4h0.01M684.9,183.9h0.01M704.0,167.3h0.01M687.3,148.5h0.01M714.7,163.3h0.01M693.8,161.6h0.01M694.1,167.5h0.01M704.8,172.8h0.01M663.8,161.5h0.01M708.4,157.4h0.01M662.4,169.0h0.01M674.8,166.8h0.01M696.0,175.5h0.01M689.4,165.5h0.01M668.6,157.5h0.01M697.8,165.0h0.01M710.8,168.5h0.01M707.3,168.8h0.01M689.1,166.1h0.01M658.1,164.2h0.01M683.0,151.9h0.01M680.5,149.4h0.01M680.0,162.3h0.01M683.7,153.6h0.01M693.1,184.9h0.01M685.6,176.9h0.01M663.5,170.2h0.01M664.9,156.7h0.01M717.3,162.5h0.01M682.0,171.5h0.01M678.3,165.9h0.01M674.4,168.6h0.01M684.0,161.6h0.01M706.8,178.5h0.01M663.3,153.2h0.01M666.5,166.5h0.01M687.1,164.6h0.01M705.8,177.5h0.01M708.3,173.2h0.01M673.3,172.9h0.01M683.1,163.5h0.01M709.0,162.9h0.01M655.6,159.0h0.01M666.9,175.2h0.01M680.0,146.9h0.01M689.8,184.4h0.01M709.1,178.0h0.01M685.4,178.0h0.01M670.5,150.7h0.01M673.3,145.3h0.01M678.9,177.4h0.01M668.5,150.7h0.01M667.8,154.3h0.01M687.2,185.3h0.01M670.1,163.9h0.01M676.0,171.8h0.01M669.6,157.1h0.01M678.2,177.6h0.01M699.9,158.0h0.01M704.1,152.2h0.01" stroke="#000" stroke-width="1.15" stroke-linecap="round" fill="none"/>
<path d="M669.6,138.9h0.01M613.1,117.6h0.01M614.6,117.4h0.01M624.0,115.3h0.01M629.7,110.3h0.01M611.0,123.9h0.01M683.6,147.8h0.01M655.2,122.2h0.01M659.1,136.8h0.01M626.3,114.7h0.01M614.7,115.2h0.01M637.8,110.7h0.01M673.5,144.3h0.01M695.9,143.8h0.01M670.1,142.4h0.01M668.1,132.6h0.01M620.0,107.8h0.01M684.5,144.8h0.01M639.7,118.9h0.01M667.8,129.6h0.01M684.5,147.0h0.01M673.4,142.8h0.01M651.0,130.7h0.01M660.5,126.4h0.01M625.3,122.6h0.01M696.6,149.1h0.01M663.3,124.6h0.01M663.5,137.3h0.01M650.5,120.6h0.01M640.8,112.0h0.01M616.9,119.7h0.01M681.8,140.1h0.01M614.2,116.5h0.01M674.9,139.6h0.01M620.9,117.1h0.01M662.6,126.1h0.01M684.4,143.6h0.01M662.3,121.7h0.01M621.3,117.9h0.01M681.0,133.7h0.01M672.1,130.2h0.01M622.4,110.8h0.01M626.7,104.8h0.01M672.6,136.7h0.01M630.7,107.1h0.01M666.1,138.9h0.01M650.7,129.8h0.01M659.3,120.0h0.01M696.4,144.1h0.01M691.3,144.6h0.01M663.8,131.5h0.01M624.7,117.9h0.01M646.4,119.6h0.01M676.9,136.8h0.01M699.0,146.0h0.01M674.5,141.6h0.01M621.5,117.0h0.01M694.2,151.5h0.01M702.2,147.0h0.01M613.2,121.7h0.01M667.1,133.7h0.01M698.7,145.9h0.01M678.3,132.9h0.01M660.5,127.0h0.01M685.2,143.9h0.01M652.8,130.7h0.01M616.3,109.3h0.01M666.1,122.8h0.01M650.6,133.6h0.01M665.9,131.6h0.01M615.3,115.0h0.01M626.2,119.5h0.01M663.1,130.9h0.01M673.7,132.6h0.01M626.0,105.0h0.01M623.3,101.0h0.01M663.6,129.6h0.01M619.6,115.0h0.01M642.8,112.0h0.01M627.6,116.4h0.01M621.0,109.9h0.01M648.7,132.3h0.01M687.3,149.0h0.01M625.2,118.2h0.01M681.1,145.6h0.01M657.4,134.6h0.01M691.8,139.5h0.01M662.8,131.0h0.01M624.1,99.9h0.01M632.9,106.2h0.01M684.0,147.1h0.01M653.5,121.3h0.01M618.8,118.9h0.01M672.3,139.2h0.01M668.1,131.4h0.01M626.6,109.1h0.01M624.8,104.9h0.01M655.0,129.3h0.01M611.0,123.3h0.01M657.8,119.0h0.01M621.5,106.9h0.01M618.0,120.0h0.01M615.8,117.2h0.01M693.6,143.4h0.01M635.7,108.1h0.01M621.1,116.2h0.01M687.7,137.3h0.01M625.5,108.1h0.01M669.1,137.9h0.01M619.5,108.4h0.01M667.9,137.7h0.01M631.1,122.7h0.01M689.6,142.1h0.01M635.6,120.3h0.01M617.8,117.0h0.01M653.1,126.9h0.01M667.7,136.2h0.01M635.5,108.5h0.01M619.7,105.2h0.01M647.5,121.6h0.01M675.1,133.4h0.01M641.8,111.4h0.01M664.0,138.3h0.01M630.8,105.0h0.01M662.5,127.8h0.01M653.1,136.8h0.01M683.9,142.1h0.01M663.1,135.0h0.01M626.8,119.1h0.01M615.9,114.4h0.01M657.2,132.4h0.01M691.6,150.5h0.01M647.6,127.2h0.01M609.7,126.2h0.01M619.1,115.2h0.01M665.9,132.7h0.01M660.4,131.7h0.01M690.4,140.1h0.01M628.2,111.6h0.01M654.3,121.8h0.01M633.9,122.8h0.01M623.2,103.5h0.01M676.2,144.9h0.01M626.4,103.1h0.01M638.2,108.1h0.01M658.4,123.8h0.01M628.3,121.6h0.01M652.4,123.3h0.01M673.2,134.7h0.01M681.6,134.1h0.01" stroke="#000" stroke-width="1.1" stroke-linecap="round" fill="none"/>
<path d="M686.3,131.6h0.01M664.7,119.4h0.01M660.3,113.5h0.01M710.0,144.0h0.01M657.9,113.0h0.01M696.6,135.3h0.01M655.4,112.2h0.01M709.0,145.1h0.01M686.0,130.0h0.01M696.9,139.8h0.01M705.1,141.9h0.01M687.6,133.4h0.01M684.2,129.9h0.01M653.3,111.6h0.01M707.2,145.8h0.01M667.0,117.9h0.01M669.8,120.1h0.01M685.6,129.8h0.01M707.7,145.5h0.01M669.5,120.4h0.01M706.2,144.5h0.01M639.8,103.7h0.01M691.1,137.2h0.01M674.7,125.9h0.01M644.9,106.5h0.01M684.6,129.9h0.01" stroke="#000" stroke-width="1.0" stroke-linecap="round" fill="none"/>
<path d="M666.5,186.8h0.01M667.7,197.7h0.01M652.9,199.2h0.01M660.9,199.5h0.01M662.3,196.3h0.01M670.6,190.0h0.01M661.7,192.5h0.01M677.5,188.3h0.01M671.8,192.5h0.01M662.1,192.0h0.01M654.6,198.9h0.01M667.5,189.9h0.01M667.6,196.3h0.01M670.8,189.0h0.01M669.7,188.1h0.01M655.8,193.6h0.01M665.3,199.0h0.01M653.0,198.2h0.01M668.4,189.4h0.01M652.9,198.5h0.01M671.1,189.4h0.01M666.3,197.0h0.01M657.9,196.5h0.01M658.4,196.4h0.01M658.7,193.6h0.01M657.9,197.9h0.01M665.2,192.4h0.01M658.2,193.9h0.01M661.8,199.4h0.01M652.3,197.3h0.01" stroke="#000" stroke-width="1.1" stroke-linecap="round" fill="none"/>
<path d="M628.5,182.6h0.01M630.0,178.5h0.01M643.9,173.9h0.01M629.5,187.4h0.01M639.4,188.8h0.01M623.6,178.3h0.01M652.9,184.9h0.01M620.7,194.8h0.01M638.6,189.5h0.01M642.2,178.3h0.01M631.4,189.9h0.01M626.3,195.3h0.01M623.3,179.1h0.01M641.9,184.3h0.01M633.1,182.0h0.01M626.9,191.8h0.01M647.6,177.9h0.01M642.1,187.5h0.01M627.1,178.5h0.01M630.1,186.0h0.01M634.4,176.6h0.01M655.4,175.2h0.01M624.2,177.4h0.01M643.1,192.4h0.01M623.6,186.9h0.01M647.9,184.3h0.01M645.5,185.4h0.01M652.3,181.0h0.01M631.2,189.0h0.01M659.1,176.1h0.01M644.6,185.3h0.01M637.0,181.4h0.01M632.1,188.6h0.01M623.0,185.3h0.01M622.5,186.3h0.01M637.8,183.2h0.01M629.9,195.6h0.01M626.3,186.9h0.01M634.5,191.8h0.01M655.0,177.5h0.01M638.1,185.1h0.01M636.1,190.4h0.01M624.4,179.0h0.01M626.8,183.9h0.01M629.8,179.6h0.01M643.9,189.3h0.01M641.1,171.4h0.01M640.9,191.4h0.01M631.6,182.2h0.01M627.4,194.5h0.01M648.7,187.3h0.01M638.4,179.4h0.01M640.9,179.9h0.01M617.2,180.6h0.01M646.7,175.5h0.01M616.4,180.4h0.01M624.3,189.0h0.01M644.0,185.7h0.01M626.0,178.8h0.01M640.8,179.7h0.01M646.9,177.9h0.01M643.4,176.7h0.01M655.2,183.4h0.01M656.8,174.5h0.01M633.3,179.1h0.01M631.8,189.1h0.01M649.0,184.2h0.01M631.6,194.5h0.01M637.2,179.2h0.01M618.1,192.8h0.01M657.0,182.6h0.01M636.0,191.0h0.01M629.3,177.5h0.01M644.9,180.8h0.01M621.9,186.3h0.01M642.4,175.6h0.01M633.8,177.9h0.01M648.3,174.8h0.01M646.4,176.9h0.01M650.5,187.6h0.01M659.5,175.6h0.01M631.9,179.0h0.01M648.0,185.9h0.01M627.8,182.7h0.01M621.0,192.8h0.01M642.6,187.3h0.01M654.3,174.2h0.01M643.7,173.4h0.01M627.2,190.9h0.01M625.9,181.5h0.01M632.6,179.5h0.01M645.7,180.8h0.01M619.4,190.9h0.01M637.8,183.1h0.01M635.4,175.5h0.01M621.7,193.0h0.01M630.3,178.0h0.01M624.9,190.2h0.01M646.7,189.4h0.01M617.1,184.1h0.01M634.3,175.6h0.01M648.8,182.9h0.01M653.1,185.8h0.01M618.6,181.2h0.01M632.0,173.5h0.01M644.1,179.6h0.01M626.1,180.8h0.01M632.0,192.5h0.01M641.6,191.6h0.01M647.5,181.6h0.01M642.4,184.1h0.01M637.4,181.1h0.01M618.6,189.5h0.01M657.2,182.3h0.01M639.7,181.9h0.01M640.1,191.9h0.01M635.1,189.4h0.01M642.2,188.3h0.01M638.7,176.7h0.01M628.0,191.6h0.01M618.3,184.4h0.01M625.7,189.6h0.01M619.2,195.8h0.01M619.0,200.2h0.01M631.6,179.9h0.01M631.7,176.8h0.01M617.4,185.0h0.01M639.9,173.9h0.01M636.1,178.2h0.01M624.6,187.1h0.01M636.6,184.1h0.01M619.1,199.3h0.01M655.3,176.9h0.01M654.1,184.6h0.01M653.8,179.9h0.01M625.7,180.7h0.01M636.9,174.2h0.01M629.6,186.4h0.01M643.6,187.1h0.01M650.1,184.3h0.01M642.7,173.2h0.01M630.0,178.9h0.01M646.9,191.8h0.01M619.4,184.3h0.01M620.2,189.9h0.01M629.6,175.9h0.01M637.0,185.5h0.01M621.1,189.3h0.01M640.0,192.8h0.01M644.1,189.7h0.01" stroke="#000" stroke-width="1.25" stroke-linecap="round" fill="none"/>
<path d="M711.4,170.5h0.01M707.4,178.7h0.01M702.1,174.3h0.01M704.4,170.5h0.01M703.9,177.1h0.01M696.9,171.5h0.01M697.3,173.7h0.01M705.2,180.7h0.01M712.8,169.4h0.01M708.4,167.0h0.01M693.9,172.3h0.01M705.0,178.8h0.01M700.2,177.9h0.01M713.9,176.8h0.01M709.7,179.3h0.01M694.5,174.1h0.01M708.1,183.0h0.01M704.7,179.6h0.01M690.8,173.9h0.01M717.7,170.6h0.01M691.4,179.4h0.01M699.0,176.1h0.01M707.8,169.9h0.01M717.6,162.4h0.01M695.2,179.4h0.01M713.0,172.5h0.01M716.1,165.0h0.01M715.1,167.9h0.01M708.3,172.6h0.01M706.3,167.1h0.01M693.6,180.9h0.01M703.3,169.0h0.01M712.4,168.8h0.01M691.3,179.0h0.01M710.0,180.9h0.01M704.2,182.4h0.01M702.1,173.9h0.01M714.4,167.9h0.01M704.1,169.2h0.01M691.7,185.1h0.01M690.4,183.6h0.01M693.9,183.6h0.01M714.7,163.5h0.01M693.8,177.9h0.01M708.3,178.8h0.01M693.8,174.7h0.01M714.5,173.2h0.01M704.2,175.7h0.01M714.6,164.8h0.01M698.2,181.6h0.01M705.3,174.9h0.01M709.5,176.0h0.01M700.8,172.3h0.01M709.4,177.1h0.01M708.6,177.5h0.01M696.1,171.2h0.01M699.1,183.2h0.01M701.7,173.0h0.01M707.7,179.5h0.01M717.7,166.7h0.01M703.6,170.0h0.01M695.6,174.5h0.01M715.5,165.8h0.01M719.1,165.6h0.01M703.4,175.5h0.01M700.4,184.9h0.01M707.8,181.3h0.01M699.3,176.4h0.01M715.4,175.6h0.01M692.4,178.8h0.01" stroke="#000" stroke-width="1.2" stroke-linecap="round" fill="none"/>
<path d="M681.7,155.6h0.01M659.4,146.5h0.01M679.1,151.0h0.01M677.6,152.1h0.01M661.6,143.2h0.01M671.0,151.8h0.01M691.8,151.0h0.01M674.9,149.2h0.01M688.5,152.9h0.01M693.9,157.0h0.01M663.2,147.5h0.01M658.7,144.8h0.01M664.7,152.3h0.01M686.6,151.5h0.01M679.7,156.0h0.01M677.5,152.8h0.01M655.8,147.0h0.01M666.8,151.7h0.01M688.9,151.8h0.01M678.1,155.6h0.01M668.0,153.4h0.01M680.8,154.5h0.01M675.9,152.7h0.01M655.6,144.3h0.01M681.6,152.6h0.01M655.3,142.9h0.01M667.0,146.2h0.01M674.5,151.8h0.01M662.3,151.8h0.01M658.4,145.7h0.01M690.3,157.5h0.01M670.0,150.8h0.01M688.8,150.1h0.01M687.6,155.0h0.01M697.0,155.0h0.01M679.1,150.9h0.01M657.8,143.8h0.01M689.8,153.0h0.01M679.4,153.4h0.01M655.0,143.5h0.01M670.5,152.2h0.01M680.5,155.2h0.01M680.0,155.4h0.01M689.2,151.7h0.01M687.2,156.1h0.01M654.7,146.0h0.01M657.3,148.8h0.01M667.7,151.6h0.01M669.1,152.8h0.01M653.6,141.4h0.01" stroke="#000" stroke-width="1.15" stroke-linecap="round" fill="none"/>
<path d="M611,146 L607.5,131 Q610,124 618,122.5 L636,120.8 Q644,123 647,130 L650,139 L646,146 L642,143.5 L627.6,137.6 L615.5,143.7 Z" fill="#fff" stroke="#fff" stroke-width="0.1" />
<path d="M627,96 L644,104 L715,146 L706,146.5 L652,115 L640,110 Z" fill="#fff" stroke="#fff" stroke-width="0.1" />
<path d="M630.7,134.5h0.01M625.1,133.3h0.01M615.1,135.0h0.01M639.9,138.0h0.01M633.3,129.0h0.01M616.9,130.7h0.01M633.9,123.7h0.01M616.0,132.2h0.01M620.5,134.5h0.01M645.9,134.4h0.01M619.3,138.0h0.01M635.6,135.0h0.01M638.9,138.4h0.01M629.8,131.0h0.01M623.4,124.7h0.01M639.5,123.3h0.01" stroke="#000" stroke-width="1.0" stroke-linecap="round" fill="none"/>
<line x1="651" y1="113" x2="704.5" y2="146" stroke="#000" stroke-width="1.5"/>
<path d="M704.5,146 L716,145.5" fill="none" stroke="#000" stroke-width="1.2" />
<path d="M698.4,145.0h0.01M678.6,133.7h0.01M656.7,119.8h0.01M680.3,133.9h0.01M673.7,133.7h0.01M668.5,126.3h0.01M694.4,144.1h0.01M674.5,134.1h0.01M675.6,134.8h0.01M699.1,146.0h0.01M677.3,135.0h0.01M654.3,120.0h0.01M661.7,122.7h0.01M699.1,145.4h0.01M688.8,142.8h0.01M698.7,148.0h0.01M672.4,130.5h0.01M688.6,139.3h0.01M701.2,147.0h0.01M674.3,130.4h0.01M699.8,148.6h0.01M686.3,140.2h0.01M682.5,137.9h0.01M673.7,130.1h0.01M667.2,127.5h0.01M676.1,132.3h0.01M685.2,138.7h0.01M676.6,130.6h0.01M694.0,146.3h0.01M659.4,123.1h0.01M702.6,148.7h0.01M679.2,133.5h0.01M687.8,141.6h0.01M680.8,135.8h0.01M695.1,147.1h0.01M701.7,149.7h0.01M658.8,121.8h0.01M669.7,130.0h0.01M664.2,123.9h0.01M698.2,148.5h0.01M657.8,122.9h0.01M677.6,136.0h0.01M653.5,118.1h0.01M692.9,144.9h0.01M699.2,149.4h0.01M661.9,122.3h0.01M679.6,137.3h0.01M688.9,140.0h0.01M688.6,138.3h0.01M660.8,122.0h0.01M677.2,131.4h0.01M695.1,147.2h0.01M684.3,139.6h0.01M688.3,142.5h0.01M701.2,149.1h0.01M694.6,144.9h0.01M691.5,140.2h0.01M654.6,117.5h0.01M698.2,149.5h0.01M653.6,116.8h0.01" stroke="#000" stroke-width="1.15" stroke-linecap="round" fill="none"/>
<path d="M610.5,146 Q605,134 609,128 Q614,121 626,120 Q640,120 645,127 Q649,133 650,138" fill="none" stroke="#000" stroke-width="1.7" />
<path d="M611,112 L622,108 L617,116 L612,121 Z" fill="#000" stroke="#000" stroke-width="1.2" />
<path d="M622,108 L634,111 L626,114" fill="none" stroke="#000" stroke-width="1.2" />
<path d="M587,170 L612.4,150.7" fill="none" stroke="#000" stroke-width="2.6" />
<line x1="589.0" y1="167.0" x2="590.5" y2="164.2" stroke="#000" stroke-width="1.0"/>
<line x1="591.6" y1="165.0" x2="593.1" y2="162.2" stroke="#000" stroke-width="1.0"/>
<line x1="594.2" y1="163.0" x2="595.7" y2="160.2" stroke="#000" stroke-width="1.0"/>
<line x1="596.8" y1="161.0" x2="598.3" y2="158.2" stroke="#000" stroke-width="1.0"/>
<line x1="599.4" y1="159.0" x2="600.9" y2="156.2" stroke="#000" stroke-width="1.0"/>
<line x1="602.0" y1="157.0" x2="603.5" y2="154.2" stroke="#000" stroke-width="1.0"/>
<ellipse cx="598.3" cy="188.5" rx="16" ry="19.7" transform="rotate(-10 598.3 188.5)" fill="#fff" stroke="#000" stroke-width="2.8"/>
<ellipse cx="598.3" cy="188.5" rx="11.2" ry="14.3" transform="rotate(-10 598.3 188.5)" fill="#fff" stroke="#000" stroke-width="1.9"/>
<path d="M590,178 Q587,190 592,200" fill="none" stroke="#000" stroke-width="3.4" />
<path d="M596,175 Q601,186 599,201" fill="none" stroke="#000" stroke-width="1.6" />
<path d="M603,176 Q608,186 606,199" fill="none" stroke="#000" stroke-width="2.2" />
<path d="M605,208.5 L615.5,202.5 L636,194" fill="none" stroke="#000" stroke-width="2.4" />
<path d="M615.5,143.7 L627.6,137.6 L641.7,143.7 L641.7,151.7 L625.6,161 L614.4,155.8 Z" fill="#fff" stroke="#000" stroke-width="1.7" />
<path d="M615.5,143.7 L626,149.5 L641.7,143.7 M626,149.5 L625.6,161" fill="none" stroke="#000" stroke-width="1.3" />
<path d="M640.8,147.3h0.01M636.9,151.2h0.01M639.7,148.0h0.01M632.8,151.5h0.01M638.8,148.2h0.01M640.1,149.0h0.01M637.0,147.8h0.01M640.6,147.0h0.01M628.7,157.5h0.01M638.7,146.7h0.01M639.5,146.7h0.01M629.1,150.7h0.01M638.8,151.5h0.01M640.1,147.3h0.01" stroke="#000" stroke-width="1.1" stroke-linecap="round" fill="none"/>
<path d="M617.2,152.9h0.01M617.8,154.9h0.01M618.3,153.6h0.01M624.8,155.0h0.01M620.1,155.5h0.01M618.9,155.6h0.01M624.9,157.3h0.01M621.2,151.0h0.01" stroke="#000" stroke-width="1.0" stroke-linecap="round" fill="none"/>
<ellipse cx="623.1" cy="146.1" rx="2.6" ry="2.1" transform="rotate(0 623.1 146.1)" fill="#fff" stroke="#000" stroke-width="1.9"/>
<path d="M599.3,107.2 L615.5,96.1 Q621,96 623,101 Q624,108 620,112 L606,122.5 Z" fill="#fff" stroke="#000" stroke-width="2.4" />
<path d="M608.4,109.7h0.01M609.8,115.5h0.01M609.4,105.6h0.01M611.8,115.5h0.01M614.4,101.3h0.01M614.6,110.6h0.01M614.2,111.6h0.01M610.5,108.0h0.01M618.4,104.1h0.01M609.9,115.3h0.01M613.1,109.9h0.01M613.9,108.4h0.01M618.6,102.3h0.01M615.8,107.3h0.01M612.8,108.9h0.01M611.1,115.5h0.01M612.8,107.1h0.01M609.5,117.3h0.01M612.2,102.6h0.01M615.4,111.1h0.01M619.6,103.3h0.01M618.0,111.5h0.01" stroke="#000" stroke-width="1.1" stroke-linecap="round" fill="none"/>
<path d="M606,123 L620,112.5 L622,116 L612,127 L607,131 Z" fill="#000" stroke="#000" stroke-width="1.5" />
<ellipse cx="602.4" cy="115.6" rx="5.2" ry="7.3" transform="rotate(-25 602.4 115.6)" fill="#fff" stroke="#000" stroke-width="3.0"/>
<ellipse cx="602.4" cy="115.6" rx="1.7" ry="2.6" transform="rotate(-25 602.4 115.6)" fill="#fff" stroke="#000" stroke-width="1.8"/>
<path d="M607,131 L610.5,146" fill="none" stroke="#000" stroke-width="3.0" />
<path d="M693,156.5 L710,147.5 Q716,149 715,156 L700,169.5 Z" fill="#fff" stroke="#000" stroke-width="1.5" />
<ellipse cx="695.3" cy="162.9" rx="4.6" ry="6.6" transform="rotate(-20 695.3 162.9)" fill="#fff" stroke="#000" stroke-width="2.8"/>
<ellipse cx="695.3" cy="162.9" rx="1.6" ry="2.3" transform="rotate(-20 695.3 162.9)" fill="#fff" stroke="#000" stroke-width="1.7"/>
<path d="M700,169.5 L712,160 Q716,156 715,152" fill="none" stroke="#000" stroke-width="2.6" />
<path d="M712,160 q4,6 0,12" fill="none" stroke="#000" stroke-width="1.4" />
<path d="M662,186 L676,180.5 L682,187 L668,199.5 Z" fill="#fff" stroke="#000" stroke-width="1.4" />
<path d="M671.1,188.7h0.01M677.9,188.2h0.01M676.6,185.4h0.01M675.4,183.4h0.01M670.2,187.7h0.01M670.6,187.3h0.01M673.3,185.3h0.01M670.2,194.8h0.01M670.1,194.7h0.01M673.0,189.8h0.01M669.1,186.6h0.01M677.6,187.4h0.01" stroke="#000" stroke-width="1.0" stroke-linecap="round" fill="none"/>
<ellipse cx="665" cy="192.6" rx="4.4" ry="6.2" transform="rotate(-20 665 192.6)" fill="#fff" stroke="#000" stroke-width="2.8"/>
<ellipse cx="665" cy="192.6" rx="1.5" ry="2.2" transform="rotate(-20 665 192.6)" fill="#fff" stroke="#000" stroke-width="1.7"/>
<path d="M668,199.5 L682,187.5" fill="none" stroke="#000" stroke-width="2.4" />
<path d="M722,158 Q722,168 716.5,178 Q711,185 704,187 Q696,189 688,187" fill="none" stroke="#000" stroke-width="3.2" />
<path d="M636,194 L646,197.5 L656,200.5" fill="none" stroke="#000" stroke-width="2.6" />
<line x1="646" y1="65.7" x2="623.5" y2="144" stroke="#000" stroke-width="1.0"/>
<path d="M646,42 L655,40 L657.5,46 L656,52 L652,54 L651.5,64 L645,66 L643.5,55 L644,48 Z" fill="#000" stroke="#000" stroke-width="1.6" />
<path d="M646.5,47.5 l8,-2.2 M645.5,57 l5.5,-1.6 M645.8,61 l5.5,-1.6" fill="none" stroke="#fff" stroke-width="1.2" />
<path d="M649,39.5 l4,-1.2" fill="none" stroke="#000" stroke-width="2.6" />
<path d="M650.5,308 Q650,303 655,304 L664,307 L752,351 Q758,356 756.5,364 L753,377 Q750,384 742,382 L722,370 L690,352 L650.5,330 Z" fill="#fff" stroke="#000" stroke-width="1.7" />
<path d="M655.5,323 L657.5,320.5 L661,320 L663,316.5 L666,317 L722,343.5 Q725,348 724.5,357 L722,366" fill="none" stroke="#000" stroke-width="1.4" />
<line x1="664" y1="309" x2="748" y2="351" stroke="#000" stroke-width="0.9"/>
<line x1="680" y1="316" x2="700" y2="326" stroke="#000" stroke-width="2.0"/>
<ellipse cx="737" cy="363" rx="9" ry="10.3" transform="rotate(-20 737 363)" fill="#fff" stroke="#000" stroke-width="1.8"/>
<ellipse cx="655.5" cy="312" rx="2.0" ry="2.4" transform="rotate(0 655.5 312)" fill="#fff" stroke="#000" stroke-width="1.2"/>
<ellipse cx="750.2" cy="357.7" rx="2.0" ry="2.4" transform="rotate(0 750.2 357.7)" fill="#fff" stroke="#000" stroke-width="1.2"/>
<path d="M742,382 L722,370" fill="none" stroke="#000" stroke-width="2.6" />
<line x1="748" y1="364" x2="752" y2="365" stroke="#000" stroke-width="0.8"/>
<line x1="748" y1="368" x2="752" y2="369" stroke="#000" stroke-width="0.8"/>
<line x1="748" y1="372" x2="752" y2="373" stroke="#000" stroke-width="0.8"/>
<path d="M618,327 Q620,323 626,324.5 L721,368 Q728,372 728,380 L728.5,388 Q726,400 719,404.5 Q710,406 704,401 Q698,395 695,397 Q693,404 694,412 Q692,418 686,419 L672,421 Q664,420 656,413 L620,378 Q616.5,374 616.5,368 L616,334 Q616,329 618,327 Z" fill="#fff" stroke="#000" stroke-width="1.9" />
<path d="M665.9,348.7h0.01M713.3,369.6h0.01M671.4,351.3h0.01M639.2,336.5h0.01M683.2,357.7h0.01M630.6,331.5h0.01M629.3,333.5h0.01M691.0,357.4h0.01M718.1,374.2h0.01M686.0,358.0h0.01M637.5,333.2h0.01M674.5,350.1h0.01M640.3,335.6h0.01M623.9,329.3h0.01M664.2,349.4h0.01M672.4,352.1h0.01M670.4,351.3h0.01M666.9,347.8h0.01M719.6,375.1h0.01M704.4,366.8h0.01M652.8,341.2h0.01M650.5,339.3h0.01M697.6,362.2h0.01M705.7,365.7h0.01M715.9,372.7h0.01M621.4,326.9h0.01M711.9,368.9h0.01M719.0,371.8h0.01M627.8,331.9h0.01M699.1,362.2h0.01M629.8,331.3h0.01M716.7,372.6h0.01M633.1,332.4h0.01M631.7,330.8h0.01M701.1,362.6h0.01M676.8,353.1h0.01M639.4,337.7h0.01M633.6,334.6h0.01M632.6,333.0h0.01M642.5,336.7h0.01M717.3,373.1h0.01M650.5,343.4h0.01M642.1,337.2h0.01M705.9,367.1h0.01M629.9,334.7h0.01M642.6,336.7h0.01M698.4,362.2h0.01M651.2,339.7h0.01M629.6,332.5h0.01M644.9,339.5h0.01M658.0,344.6h0.01M716.7,371.2h0.01M677.5,355.5h0.01M639.7,334.9h0.01M711.0,370.3h0.01M646.3,338.1h0.01M693.9,363.2h0.01M639.6,338.8h0.01M708.8,368.2h0.01M663.7,345.4h0.01M623.8,331.8h0.01M644.2,339.7h0.01M645.9,341.0h0.01M680.8,354.1h0.01M637.9,336.9h0.01M628.2,330.1h0.01M676.0,354.7h0.01M682.6,354.8h0.01M713.1,368.2h0.01M622.9,327.9h0.01M666.2,346.3h0.01M638.7,335.5h0.01M678.7,352.3h0.01M656.2,346.0h0.01M718.5,372.9h0.01M689.7,359.6h0.01M635.7,332.5h0.01M621.8,330.6h0.01M690.0,361.6h0.01M622.6,329.6h0.01M668.6,350.8h0.01M651.7,344.5h0.01M628.2,331.7h0.01M693.7,362.9h0.01M694.1,362.1h0.01M699.3,365.5h0.01M655.6,344.7h0.01M710.1,370.2h0.01M661.9,348.1h0.01M707.0,367.3h0.01M683.5,355.7h0.01M678.8,354.8h0.01M628.5,332.3h0.01M719.4,374.4h0.01M693.8,360.4h0.01M694.1,361.5h0.01M664.2,349.3h0.01M628.7,332.9h0.01M623.6,329.9h0.01M669.4,348.6h0.01M690.6,359.5h0.01M681.4,357.5h0.01M647.3,337.6h0.01M650.5,342.4h0.01M641.7,335.9h0.01M711.0,369.5h0.01M664.2,349.6h0.01M653.2,343.5h0.01M640.8,336.8h0.01M700.6,366.1h0.01M709.0,367.2h0.01M679.4,353.6h0.01M634.4,334.2h0.01M703.8,367.2h0.01M691.0,362.0h0.01M649.1,339.2h0.01M666.3,347.5h0.01M642.4,337.4h0.01M683.4,356.2h0.01M651.7,343.7h0.01M719.1,372.1h0.01M629.2,329.5h0.01M709.0,365.5h0.01M691.5,360.3h0.01M651.1,343.2h0.01M623.4,327.5h0.01M667.2,346.6h0.01M704.3,364.4h0.01M635.7,332.6h0.01M683.8,356.2h0.01M683.5,357.1h0.01M700.6,366.3h0.01M689.8,357.7h0.01M668.9,348.2h0.01M621.9,328.5h0.01M692.8,358.9h0.01M648.3,339.7h0.01M690.5,359.6h0.01M681.7,356.8h0.01M659.6,347.0h0.01M712.2,367.2h0.01M713.6,371.0h0.01M633.9,333.8h0.01M682.5,358.0h0.01M658.3,345.4h0.01M708.1,368.9h0.01M715.3,370.5h0.01M686.5,356.2h0.01M692.4,361.9h0.01M684.5,357.9h0.01M641.3,339.4h0.01M717.9,374.2h0.01M673.9,353.5h0.01M652.0,344.2h0.01M706.7,366.0h0.01M629.2,331.6h0.01M675.3,354.0h0.01M670.4,348.1h0.01M702.5,362.7h0.01M701.4,362.7h0.01M653.7,344.4h0.01M635.5,333.0h0.01M672.0,352.3h0.01M704.4,366.7h0.01M715.4,370.6h0.01M716.5,369.1h0.01M642.9,338.2h0.01M649.4,342.1h0.01M684.6,357.0h0.01M705.0,366.3h0.01M652.2,341.6h0.01M704.5,367.8h0.01M640.9,338.9h0.01M717.6,371.8h0.01M678.7,352.7h0.01M674.4,352.2h0.01M682.2,353.4h0.01M717.7,371.8h0.01M660.3,347.4h0.01M677.1,353.4h0.01M690.7,357.4h0.01M674.8,352.0h0.01M715.7,372.9h0.01M647.8,340.1h0.01M633.6,333.5h0.01M701.6,366.5h0.01M668.8,348.8h0.01M639.7,337.2h0.01M714.0,368.2h0.01M699.6,361.2h0.01M640.7,335.7h0.01M689.8,358.3h0.01M656.1,344.6h0.01M630.8,333.8h0.01M633.0,333.7h0.01M646.4,338.1h0.01M673.9,351.7h0.01M658.5,344.7h0.01M674.4,350.5h0.01M641.0,337.8h0.01M684.6,357.0h0.01M705.7,366.9h0.01M707.0,365.6h0.01M694.3,362.7h0.01M711.4,368.0h0.01M651.5,344.0h0.01M641.6,340.0h0.01M710.2,366.5h0.01M644.3,339.8h0.01M647.5,338.1h0.01M704.2,365.2h0.01M700.5,362.1h0.01M660.7,347.0h0.01M623.1,327.7h0.01M688.2,360.5h0.01M718.4,370.1h0.01M670.9,351.9h0.01M670.7,351.5h0.01M640.5,334.8h0.01M632.3,331.0h0.01M675.9,353.0h0.01M678.3,352.2h0.01M639.8,335.2h0.01M703.9,367.9h0.01M714.3,368.1h0.01M626.1,332.8h0.01M666.5,350.0h0.01M653.5,342.7h0.01M672.4,351.0h0.01M681.8,353.1h0.01M690.2,361.1h0.01M639.0,336.1h0.01M694.9,361.0h0.01M640.9,335.5h0.01M673.0,349.2h0.01M709.5,369.6h0.01M690.6,361.3h0.01M683.9,356.0h0.01M680.7,355.1h0.01M718.5,373.6h0.01M645.8,341.4h0.01M694.7,362.8h0.01M702.4,364.4h0.01M709.7,370.0h0.01M689.7,360.5h0.01M697.5,362.2h0.01M693.9,358.9h0.01M655.0,343.4h0.01M622.1,328.0h0.01M684.4,357.4h0.01M643.1,340.4h0.01M687.7,357.4h0.01M686.6,358.1h0.01M674.3,351.6h0.01M720.5,373.7h0.01M690.4,360.7h0.01M719.7,370.2h0.01M681.9,356.8h0.01M646.6,339.3h0.01M626.4,329.1h0.01M659.1,343.4h0.01M645.1,341.1h0.01M675.8,352.9h0.01M717.4,371.9h0.01M720.0,373.5h0.01M702.6,362.8h0.01M680.0,356.1h0.01M624.5,331.9h0.01M636.8,335.2h0.01M637.7,335.7h0.01M682.8,353.8h0.01M715.5,370.3h0.01M673.3,352.2h0.01M657.8,343.7h0.01M686.2,357.8h0.01M648.7,341.8h0.01M651.3,339.4h0.01M646.2,337.2h0.01M635.9,336.2h0.01M659.0,347.3h0.01M696.5,359.9h0.01M718.8,374.4h0.01M627.3,333.1h0.01M663.8,347.3h0.01M718.6,370.8h0.01M672.3,353.5h0.01M693.1,360.5h0.01M718.1,373.5h0.01M681.9,353.7h0.01M683.3,356.0h0.01M642.0,335.4h0.01M674.3,350.3h0.01M664.7,348.7h0.01M666.8,347.6h0.01M679.2,354.0h0.01M698.5,363.2h0.01M719.7,374.9h0.01M694.7,360.1h0.01M631.4,334.9h0.01M699.0,363.9h0.01M657.1,343.3h0.01M689.2,359.2h0.01M679.7,355.3h0.01M696.7,360.7h0.01M644.8,341.3h0.01M711.6,370.9h0.01M625.6,328.1h0.01M648.0,340.0h0.01M683.9,354.5h0.01M675.8,350.7h0.01M629.1,332.7h0.01M675.6,353.4h0.01M658.1,344.8h0.01M642.1,336.9h0.01M694.6,363.0h0.01M629.0,329.9h0.01M701.5,365.0h0.01M698.2,361.5h0.01M663.7,346.2h0.01M702.0,364.0h0.01M685.2,359.5h0.01M653.2,343.0h0.01M694.6,363.4h0.01M663.8,346.8h0.01M629.8,334.0h0.01M629.4,329.9h0.01M677.2,353.4h0.01M689.7,358.1h0.01M699.2,361.3h0.01M641.8,338.4h0.01M629.3,331.0h0.01M692.9,361.5h0.01M649.8,339.4h0.01M656.1,345.1h0.01M658.2,343.0h0.01M691.6,360.3h0.01M711.8,371.3h0.01M712.2,369.0h0.01M701.5,363.4h0.01M652.7,342.0h0.01M713.5,371.8h0.01M645.9,338.7h0.01M657.6,344.0h0.01M660.6,345.4h0.01M640.2,337.1h0.01M700.4,364.1h0.01M704.3,366.0h0.01M637.9,337.1h0.01M709.3,366.8h0.01M623.0,329.2h0.01M675.1,352.9h0.01M717.1,372.2h0.01M702.1,362.5h0.01M674.9,353.9h0.01M630.0,330.2h0.01M693.7,362.9h0.01M629.0,332.5h0.01M634.7,335.6h0.01M686.2,356.3h0.01M642.3,339.1h0.01M672.4,352.7h0.01M660.5,345.2h0.01M717.3,372.4h0.01M670.1,350.5h0.01M692.5,361.4h0.01M712.5,368.9h0.01M703.1,366.0h0.01M705.5,367.8h0.01M703.4,367.2h0.01M716.3,371.8h0.01M672.8,352.6h0.01M701.2,363.9h0.01M663.5,345.6h0.01M694.0,363.5h0.01M659.0,343.6h0.01M641.4,337.0h0.01M649.1,343.2h0.01M627.1,330.0h0.01M632.0,333.9h0.01M699.0,361.7h0.01M627.1,330.7h0.01M678.4,356.1h0.01M625.2,328.1h0.01M639.8,335.2h0.01M643.9,339.6h0.01M680.8,353.7h0.01M639.7,335.5h0.01M637.5,336.9h0.01M651.9,342.3h0.01M702.5,364.8h0.01M646.1,341.4h0.01M712.5,368.6h0.01M674.6,354.6h0.01M669.6,348.7h0.01M624.9,332.2h0.01M701.1,363.7h0.01M673.5,351.9h0.01M647.3,342.5h0.01M687.0,356.6h0.01M621.9,328.5h0.01M657.4,346.1h0.01M691.9,360.6h0.01M637.2,333.8h0.01M653.4,341.6h0.01M707.7,367.3h0.01M683.5,358.8h0.01M647.4,340.2h0.01M635.3,336.0h0.01M620.3,329.5h0.01M704.8,367.5h0.01M629.5,330.9h0.01M693.2,358.7h0.01M668.9,349.6h0.01M716.2,371.5h0.01M706.9,365.9h0.01M699.9,363.3h0.01M713.2,367.7h0.01M704.0,364.1h0.01M675.1,352.7h0.01M635.9,336.6h0.01M652.3,341.3h0.01M628.8,330.7h0.01M667.1,350.0h0.01M656.4,345.1h0.01M631.6,332.4h0.01M666.1,350.8h0.01M703.5,366.1h0.01M622.3,328.2h0.01M692.3,359.0h0.01M677.3,353.3h0.01M620.9,330.6h0.01M701.3,362.9h0.01M682.8,355.0h0.01M658.3,345.2h0.01M650.9,340.9h0.01M659.7,346.4h0.01M647.0,338.4h0.01M694.3,360.3h0.01M715.2,370.9h0.01M693.5,360.0h0.01M704.3,363.6h0.01M635.6,332.8h0.01M688.1,359.5h0.01M639.0,335.8h0.01M704.3,366.2h0.01M630.3,331.0h0.01M637.2,333.6h0.01M662.3,344.6h0.01M713.0,369.2h0.01M671.7,351.7h0.01M696.8,363.9h0.01M659.7,344.8h0.01M662.9,344.7h0.01M660.5,347.0h0.01M718.4,373.5h0.01M686.6,358.3h0.01M623.0,328.2h0.01M654.7,344.1h0.01M631.6,332.4h0.01M671.2,352.2h0.01M703.1,365.7h0.01M636.1,336.3h0.01M711.0,368.9h0.01M656.0,344.0h0.01M634.5,335.4h0.01M719.4,372.6h0.01M691.7,361.7h0.01M639.6,338.8h0.01M684.1,355.1h0.01M629.6,330.8h0.01M678.0,354.9h0.01M652.9,344.7h0.01M657.0,344.2h0.01M632.3,335.7h0.01M633.6,335.9h0.01M675.0,352.8h0.01M677.3,352.4h0.01M710.8,371.1h0.01M702.3,365.3h0.01M632.4,335.0h0.01M648.9,342.7h0.01M644.7,339.3h0.01M704.5,364.2h0.01M676.4,351.0h0.01M624.6,328.2h0.01M718.6,374.3h0.01M687.0,356.9h0.01M687.4,359.3h0.01M658.8,345.7h0.01M702.1,362.3h0.01M640.8,337.0h0.01M635.3,334.1h0.01M678.4,352.4h0.01M673.2,350.5h0.01M677.9,353.0h0.01M685.8,355.1h0.01M688.6,356.8h0.01M716.5,371.7h0.01M667.9,348.9h0.01M682.8,357.0h0.01M696.1,363.3h0.01M668.4,352.0h0.01M703.9,367.3h0.01M661.8,346.2h0.01M676.6,355.3h0.01M673.3,351.9h0.01M663.2,349.2h0.01M653.7,340.7h0.01M692.6,362.4h0.01M693.8,361.5h0.01M696.3,361.1h0.01M681.0,353.0h0.01M633.3,333.5h0.01M671.2,350.3h0.01M625.6,331.3h0.01M673.9,350.7h0.01M651.6,341.5h0.01M645.2,336.9h0.01M711.0,371.0h0.01M686.6,359.6h0.01" stroke="#000" stroke-width="0.95" stroke-linecap="round" fill="none"/>
<line x1="619" y1="331" x2="718" y2="376" stroke="#000" stroke-width="1.5"/>
<path d="M626,324.5 L721,368 Q728,372 728,380" fill="none" stroke="#000" stroke-width="2.6" />
<clipPath id="plateclip"><path d="M618,327 Q620,323 626,324.5 L721,368 Q728,372 728,380 L728.5,388 Q726,400 719,404.5 Q710,406 704,401 Q698,395 695,397 Q693,404 694,412 Q692,418 686,419 L672,421 Q664,420 656,413 L620,378 Q616.5,374 616.5,368 L616,334 Q616,329 618,327 Z"/></clipPath>
<g clip-path="url(#plateclip)">
<line x1="674.4" y1="351.4" x2="721.4" y2="373.02" stroke="#000" stroke-width="0.95"/>
<line x1="679.6" y1="358.6" x2="722.1" y2="378.15000000000003" stroke="#000" stroke-width="0.95"/>
<line x1="684.8" y1="365.8" x2="722.8" y2="383.28000000000003" stroke="#000" stroke-width="0.95"/>
<line x1="660.0" y1="373.0" x2="723.5" y2="402.21" stroke="#000" stroke-width="0.95"/>
<line x1="665.2" y1="380.2" x2="724.2" y2="407.34" stroke="#000" stroke-width="0.95"/>
<line x1="670.4" y1="387.4" x2="724.9" y2="412.46999999999997" stroke="#000" stroke-width="0.95"/>
<line x1="675.6" y1="394.6" x2="725.6" y2="417.6" stroke="#000" stroke-width="0.95"/>
<line x1="680.8" y1="401.8" x2="726.3" y2="422.73" stroke="#000" stroke-width="0.95"/>
<line x1="686.0" y1="409.0" x2="727.0" y2="427.86" stroke="#000" stroke-width="0.95"/>
<line x1="691.2" y1="416.2" x2="727.7" y2="432.99" stroke="#000" stroke-width="0.95"/>
</g>
<ellipse cx="655.5" cy="382.3" rx="13" ry="17.6" transform="rotate(-22 655.5 382.3)" fill="#fff" stroke="#000" stroke-width="2.2"/>
<path d="M645,372 Q642,384 648,394 Q654,400 662,398" fill="none" stroke="#000" stroke-width="3.6" />
<line x1="645.540707856479" y1="390.3" x2="647.940707856479" y2="389.3" stroke="#fff" stroke-width="0.9"/>
<line x1="644.2947442549698" y1="385.89921686950186" x2="646.6947442549698" y2="384.89921686950186" stroke="#fff" stroke-width="0.9"/>
<line x1="644.028013422012" y1="381.183896420094" x2="646.428013422012" y2="380.183896420094" stroke="#fff" stroke-width="0.9"/>
<line x1="644.7638250952822" y1="376.5661128072752" x2="647.1638250952822" y2="375.5661128072752" stroke="#fff" stroke-width="0.9"/>
<line x1="646.4378763335227" y1="372.44941639478947" x2="648.8378763335227" y2="371.44941639478947" stroke="#fff" stroke-width="0.9"/>
<line x1="648.903870981963" y1="369.19356729137616" x2="651.303870981963" y2="368.19356729137616" stroke="#fff" stroke-width="0.9"/>
<line x1="651.9463045646881" y1="367.08309573927755" x2="654.3463045646881" y2="366.08309573927755" stroke="#fff" stroke-width="0.9"/>
<ellipse cx="707" cy="387" rx="8.5" ry="12.2" transform="rotate(-20 707 387)" fill="#fff" stroke="#000" stroke-width="2.4"/>
<path d="M700,380 Q698,390 703,397 Q708,400 713,396" fill="none" stroke="#000" stroke-width="4.2" />
<ellipse cx="708" cy="388" rx="5.5" ry="8.5" transform="rotate(-20 708 388)" fill="#fff" stroke="#000" stroke-width="1.2"/>
<path d="M722,373 Q730,380 728,392 Q724,403 714,406" fill="none" stroke="#000" stroke-width="5.0" />
<path d="M696,397 Q692,408 694,414 Q690,420 682,420" fill="none" stroke="#000" stroke-width="4.6" />
<ellipse cx="699" cy="404" rx="0.9" ry="0.9" transform="rotate(0 699 404)" fill="#fff" stroke="#fff" stroke-width="0.8"/>
<ellipse cx="702" cy="410" rx="0.9" ry="0.9" transform="rotate(0 702 410)" fill="#fff" stroke="#fff" stroke-width="0.8"/>
<ellipse cx="698" cy="412" rx="0.9" ry="0.9" transform="rotate(0 698 412)" fill="#fff" stroke="#fff" stroke-width="0.8"/>
<ellipse cx="723" cy="384" rx="0.9" ry="0.9" transform="rotate(0 723 384)" fill="#fff" stroke="#fff" stroke-width="0.8"/>
<ellipse cx="724" cy="392" rx="0.9" ry="0.9" transform="rotate(0 724 392)" fill="#fff" stroke="#fff" stroke-width="0.8"/>
<ellipse cx="720" cy="398" rx="0.9" ry="0.9" transform="rotate(0 720 398)" fill="#fff" stroke="#fff" stroke-width="0.8"/>
<ellipse cx="620.7" cy="336" rx="2.0" ry="2.5" transform="rotate(0 620.7 336)" fill="#fff" stroke="#000" stroke-width="1.3"/>
<ellipse cx="689.2" cy="412" rx="2.0" ry="2.6" transform="rotate(0 689.2 412)" fill="#fff" stroke="#000" stroke-width="1.4"/>
<line x1="695.8" y1="353.3" x2="739.3" y2="325" stroke="#000" stroke-width="1.1"/>
<line x1="634.8" y1="395.8" x2="664" y2="377" stroke="#000" stroke-width="1.1"/>
<ellipse cx="615.5" cy="407" rx="21.5" ry="36" transform="rotate(-31 615.5 407)" fill="#fff" stroke="#000" stroke-width="2.4"/>
<ellipse cx="613" cy="408.5" rx="21.5" ry="36" transform="rotate(-31 613 408.5)" fill="#fff" stroke="#000" stroke-width="2.0"/>
<path d="M607,376 Q622,380 633,400 Q642,418 637,432" fill="none" stroke="#000" stroke-width="3.6" />
<line x1="610.0" y1="379.5" x2="613.2" y2="377.4" stroke="#fff" stroke-width="0.9"/>
<line x1="615.669996983656" y1="385.75" x2="618.869996983656" y2="383.65" stroke="#fff" stroke-width="0.9"/>
<line x1="620.9909510866322" y1="392.0" x2="624.1909510866323" y2="389.9" stroke="#fff" stroke-width="0.9"/>
<line x1="625.6669048716809" y1="398.25" x2="628.866904871681" y2="396.15" stroke="#fff" stroke-width="0.9"/>
<line x1="629.4999980975911" y1="404.5" x2="632.6999980975911" y2="402.4" stroke="#fff" stroke-width="0.9"/>
<line x1="632.4205600064791" y1="410.75" x2="635.6205600064792" y2="408.65" stroke="#fff" stroke-width="0.9"/>
<line x1="634.4977054518906" y1="417.0" x2="637.6977054518907" y2="414.9" stroke="#fff" stroke-width="0.9"/>
<line x1="635.9288233174113" y1="423.25" x2="639.1288233174114" y2="421.15" stroke="#fff" stroke-width="0.9"/>
<line x1="637.0095559174989" y1="429.5" x2="640.209555917499" y2="427.4" stroke="#fff" stroke-width="0.9"/>
<path d="M601,377 l4,-3 l4,2 M621,381 l3,-3 l3,4 l-2,4" fill="none" stroke="#000" stroke-width="1.8" />
<ellipse cx="624" cy="379" rx="1.8" ry="1.8" transform="rotate(0 624 379)" fill="#fff" stroke="#000" stroke-width="1.2"/>
<ellipse cx="607.7" cy="414.1" rx="11.5" ry="14" transform="rotate(-28 607.7 414.1)" fill="#fff" stroke="#000" stroke-width="2.8"/>
<ellipse cx="607.7" cy="414.1" rx="8" ry="10.5" transform="rotate(-28 607.7 414.1)" fill="#fff" stroke="#000" stroke-width="1.8"/>
<ellipse cx="607.7" cy="414.1" rx="4.6" ry="6.6" transform="rotate(-28 607.7 414.1)" fill="#fff" stroke="#000" stroke-width="1.8"/>
<line x1="604" y1="409" x2="611" y2="419" stroke="#000" stroke-width="1.2"/>
<line x1="603" y1="417" x2="612" y2="411" stroke="#000" stroke-width="1.0"/>
<ellipse cx="625.8" cy="418.8" rx="1.2" ry="1.4" transform="rotate(0 625.8 418.8)" fill="#fff" stroke="#000" stroke-width="1.0"/>
<line x1="581.6" y1="431.9" x2="597.5" y2="422.8" stroke="#000" stroke-width="1.1"/>
<path d="M562,430 Q570,424 578,428 Q586,436 583,446 Q578,452 570,452 L556,440 Z" fill="#fff" stroke="#000" stroke-width="1.8" />
<path d="M563.0,430.0 q5,8 1,19.0" fill="none" stroke="#000" stroke-width="2.3" />
<path d="M567.2,430.6 q5,8 1,17.8" fill="none" stroke="#000" stroke-width="2.3" />
<path d="M571.4,431.2 q5,8 1,16.6" fill="none" stroke="#000" stroke-width="2.3" />
<path d="M575.6,431.8 q5,8 1,15.4" fill="none" stroke="#000" stroke-width="2.3" />
<path d="M570,452 Q580,452 583,444" fill="none" stroke="#000" stroke-width="3.0" />
<path d="M543,440 Q548,431 558,431 Q566,434 569,444 Q571,456 566,462 Q560,466 552,464 Z" fill="#fff" stroke="#000" stroke-width="2.0" />
<path d="M552,464 Q562,467 568,458 Q571,450 569,444" fill="none" stroke="#000" stroke-width="3.4" />
<ellipse cx="551.7" cy="450.5" rx="10" ry="12.4" transform="rotate(-22 551.7 450.5)" fill="#fff" stroke="#000" stroke-width="2.4"/>
<ellipse cx="551.5" cy="451" rx="5.6" ry="7.4" transform="rotate(-22 551.5 451)" fill="#fff" stroke="#000" stroke-width="1.8"/>
<ellipse cx="551.5" cy="451" rx="3.2" ry="4.6" transform="rotate(-22 551.5 451)" fill="#fff" stroke="#000" stroke-width="1.2"/>
<line x1="548" y1="446" x2="555" y2="456" stroke="#000" stroke-width="0.9"/>
<line x1="562" y1="448" x2="564" y2="456" stroke="#000" stroke-width="1.0"/>
<line x1="565" y1="446" x2="567" y2="454" stroke="#000" stroke-width="1.0"/>
<line x1="532.4" y1="465" x2="543.5" y2="457.5" stroke="#000" stroke-width="1.2"/>
<path d="M405.5,299.9 A12.6,17.6 -18 1 0 415.8,297.4" fill="none" stroke="#000" stroke-width="2.6" />
<path d="M405.5,299.9 q3,1 3.5,4.5" fill="none" stroke="#000" stroke-width="2.0" />
<ellipse cx="416.32373798192407" cy="298.89275700336816" rx="1.3" ry="1.7" transform="rotate(0 416.32373798192407 298.89275700336816)" fill="#000" stroke="#000" stroke-width="1.6"/>
<line x1="412" y1="318" x2="424" y2="309.5" stroke="#000" stroke-width="1.0"/>
<text x="0" y="0" transform="translate(277.4,487.8) rotate(-45.1)" font-size="51" fill="#5b9bd5" fill-opacity="0.85">www.cn<tspan dx="7">loader</tspan><tspan dx="6" dy="-1">.com</tspan></text>
<text x="45.5" y="640.6" font-size="16" text-anchor="middle" fill="#111">1</text>
<text x="75.3" y="621.4" font-size="16" text-anchor="middle" fill="#111">2</text>
<text x="99" y="352.5" font-size="16" text-anchor="middle" fill="#111">3</text>
<text x="202" y="291.4" font-size="16" text-anchor="middle" fill="#111">4</text>
<text x="253" y="264.3" font-size="16" text-anchor="middle" fill="#111">5</text>
<text x="291.5" y="255.5" font-size="16" text-anchor="middle" fill="#111">6</text>
<text x="344" y="433" font-size="16" text-anchor="middle" fill="#111">7</text>
<text x="358" y="420" font-size="16" text-anchor="middle" fill="#111">8</text>
<text x="374" y="409.6" font-size="16" text-anchor="middle" fill="#111">9</text>
<text x="397.5" y="401.4" font-size="16" text-anchor="middle" fill="#111">10</text>
<text x="404.7" y="220" font-size="16" text-anchor="middle" fill="#111">11</text>
<text x="428.2" y="211.5" font-size="16" text-anchor="middle" fill="#111">12</text>
<text x="455.5" y="200.2" font-size="16" text-anchor="middle" fill="#111">13</text>
<text x="479.8" y="186" font-size="16" text-anchor="middle" fill="#111">12</text>
<text x="515" y="171" font-size="16" text-anchor="middle" fill="#111">14</text>
<text x="530.6" y="160.4" font-size="16" text-anchor="middle" fill="#111">15</text>
<text x="544" y="96" font-size="16" text-anchor="middle" fill="#111">16</text>
<text x="566.4" y="90" font-size="16" text-anchor="middle" fill="#111">2</text>
<text x="589.9" y="82" font-size="16" text-anchor="middle" fill="#111">17</text>
<text x="612.4" y="72.3" font-size="16" text-anchor="middle" fill="#111">18</text>
<text x="640.6" y="12.6" font-size="16" text-anchor="middle" fill="#111">19</text>
<text x="675.4" y="11.8" font-size="16" text-anchor="middle" fill="#111">20</text>
<text x="616.5" y="274.5" font-size="16" text-anchor="middle" fill="#111">21</text>
<text x="643" y="261.8" font-size="16" text-anchor="middle" fill="#111">2</text>
<text x="656" y="254.8" font-size="16" text-anchor="middle" fill="#111">17</text>
<text x="742.6" y="509.5" font-size="16" text-anchor="middle" fill="#111">22</text>
<text x="693.7" y="523.2" font-size="16" text-anchor="middle" fill="#111">23</text>
<text x="632.3" y="539.9" font-size="16" text-anchor="middle" fill="#111">24</text>
<text x="566.8" y="570.5" font-size="16" text-anchor="middle" fill="#111">25</text>
<line x1="45.9" y1="592" x2="45.9" y2="626.5" stroke="#111" stroke-width="1.15"/>
<line x1="76" y1="570.5" x2="76" y2="606.5" stroke="#111" stroke-width="1.15"/>
<line x1="99" y1="355" x2="99" y2="391" stroke="#111" stroke-width="1.15"/>
<line x1="203.5" y1="293.7" x2="203.5" y2="431.5" stroke="#111" stroke-width="1.15"/>
<line x1="252.5" y1="266.6" x2="252.5" y2="372" stroke="#111" stroke-width="1.15"/>
<line x1="292" y1="257.8" x2="292" y2="281" stroke="#111" stroke-width="1.15"/>
<line x1="344.2" y1="373.7" x2="344.2" y2="421" stroke="#111" stroke-width="1.15"/>
<line x1="358.6" y1="362" x2="358.6" y2="406" stroke="#111" stroke-width="1.15"/>
<line x1="373.3" y1="351" x2="373.3" y2="396.5" stroke="#111" stroke-width="1.15"/>
<line x1="393.9" y1="359" x2="393.9" y2="388.4" stroke="#111" stroke-width="1.15"/>
<line x1="405.5" y1="221.8" x2="405.5" y2="298" stroke="#111" stroke-width="1.15"/>
<line x1="426.2" y1="213.4" x2="426.2" y2="284" stroke="#111" stroke-width="1.15"/>
<line x1="453" y1="202" x2="453" y2="286" stroke="#111" stroke-width="1.15"/>
<line x1="477.8" y1="187.7" x2="477.8" y2="247" stroke="#111" stroke-width="1.15"/>
<line x1="519" y1="172.8" x2="519" y2="208" stroke="#111" stroke-width="1.15"/>
<line x1="520" y1="215.8" x2="522" y2="232" stroke="#111" stroke-width="1.15"/>
<line x1="536.5" y1="162.3" x2="536.5" y2="223.5" stroke="#111" stroke-width="1.15"/>
<line x1="546.8" y1="101.2" x2="546.8" y2="146" stroke="#111" stroke-width="1.15"/>
<line x1="565.7" y1="92" x2="565.7" y2="110.4" stroke="#111" stroke-width="1.15"/>
<line x1="565.7" y1="110.4" x2="582.8" y2="121" stroke="#111" stroke-width="1.15"/>
<line x1="590.7" y1="84" x2="590.7" y2="116" stroke="#111" stroke-width="1.15"/>
<line x1="612.5" y1="75" x2="612.5" y2="98.6" stroke="#111" stroke-width="1.15"/>
<line x1="641.4" y1="14.5" x2="652.4" y2="39.4" stroke="#111" stroke-width="1.15"/>
<line x1="674.8" y1="14.5" x2="684" y2="89.4" stroke="#111" stroke-width="1.15"/>
<line x1="616.5" y1="231.4" x2="616.5" y2="261.8" stroke="#111" stroke-width="1.15"/>
<line x1="642.5" y1="215" x2="642.5" y2="249.3" stroke="#111" stroke-width="1.15"/>
<line x1="654" y1="208.2" x2="654" y2="242" stroke="#111" stroke-width="1.15"/>
<line x1="742.2" y1="382" x2="742.2" y2="494" stroke="#111" stroke-width="1.15"/>
<line x1="692" y1="412" x2="692" y2="507.5" stroke="#111" stroke-width="1.15"/>
<line x1="632.3" y1="438.6" x2="632.3" y2="524.7" stroke="#111" stroke-width="1.15"/>
<line x1="566.7" y1="461.6" x2="566.7" y2="554.8" stroke="#111" stroke-width="1.15"/>
</svg>
</body></html>
